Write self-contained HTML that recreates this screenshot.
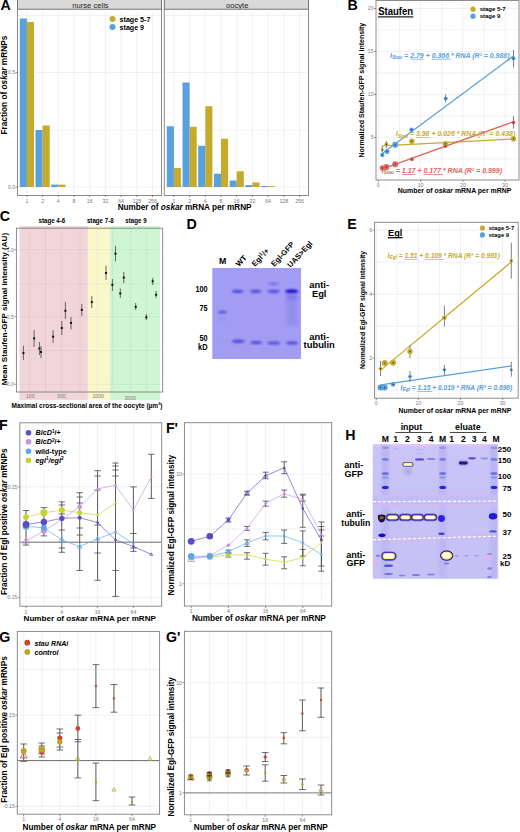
<!DOCTYPE html>
<html><head><meta charset="utf-8"><style>
html,body{margin:0;padding:0;background:#fff;}
svg{display:block;font-family:"Liberation Sans", sans-serif;}
</style></head><body>
<svg width="520" height="832" viewBox="0 0 520 832">
<rect x="0" y="0" width="520" height="832" fill="#fff"/>
<text x="0.60" y="9.90" font-size="14.2" font-weight="bold" font-style="normal" text-anchor="start" fill="#000">A</text>
<rect x="17.50" y="-0.50" width="144.00" height="9.80" fill="#D9D9D9" stroke="#666" stroke-width="0.9"/>
<text x="90.50" y="8.00" font-size="7.6" font-weight="normal" font-style="normal" text-anchor="middle" fill="#222">nurse cells</text>
<rect x="17.50" y="9.30" width="144.00" height="186.20" fill="#fff" stroke="none" stroke-width="1"/>
<line x1="26.90" y1="11.00" x2="26.90" y2="194.50" stroke="#EBEBEB" stroke-width="0.7"/>
<line x1="42.60" y1="11.00" x2="42.60" y2="194.50" stroke="#EBEBEB" stroke-width="0.7"/>
<line x1="58.30" y1="11.00" x2="58.30" y2="194.50" stroke="#EBEBEB" stroke-width="0.7"/>
<line x1="74.00" y1="11.00" x2="74.00" y2="194.50" stroke="#EBEBEB" stroke-width="0.7"/>
<line x1="89.70" y1="11.00" x2="89.70" y2="194.50" stroke="#EBEBEB" stroke-width="0.7"/>
<line x1="105.40" y1="11.00" x2="105.40" y2="194.50" stroke="#EBEBEB" stroke-width="0.7"/>
<line x1="121.10" y1="11.00" x2="121.10" y2="194.50" stroke="#EBEBEB" stroke-width="0.7"/>
<line x1="136.80" y1="11.00" x2="136.80" y2="194.50" stroke="#EBEBEB" stroke-width="0.7"/>
<line x1="152.50" y1="11.00" x2="152.50" y2="194.50" stroke="#EBEBEB" stroke-width="0.7"/>
<line x1="18.00" y1="15.25" x2="161.00" y2="15.25" stroke="#EBEBEB" stroke-width="0.7"/>
<line x1="18.00" y1="72.50" x2="161.00" y2="72.50" stroke="#EBEBEB" stroke-width="0.7"/>
<line x1="18.00" y1="130.00" x2="161.00" y2="130.00" stroke="#EBEBEB" stroke-width="0.7"/>
<line x1="18.00" y1="187.00" x2="161.00" y2="187.00" stroke="#EBEBEB" stroke-width="0.7"/>
<rect x="17.50" y="9.30" width="144.00" height="186.20" fill="none" stroke="#808080" stroke-width="0.9"/>
<line x1="26.90" y1="195.00" x2="26.90" y2="197.00" stroke="#555" stroke-width="0.6"/>
<text x="26.90" y="202.80" font-size="5.2" font-weight="normal" font-style="normal" text-anchor="middle" fill="#7a7a7a">1</text>
<line x1="42.60" y1="195.00" x2="42.60" y2="197.00" stroke="#555" stroke-width="0.6"/>
<text x="42.60" y="202.80" font-size="5.2" font-weight="normal" font-style="normal" text-anchor="middle" fill="#7a7a7a">2</text>
<line x1="58.30" y1="195.00" x2="58.30" y2="197.00" stroke="#555" stroke-width="0.6"/>
<text x="58.30" y="202.80" font-size="5.2" font-weight="normal" font-style="normal" text-anchor="middle" fill="#7a7a7a">4</text>
<line x1="74.00" y1="195.00" x2="74.00" y2="197.00" stroke="#555" stroke-width="0.6"/>
<text x="74.00" y="202.80" font-size="5.2" font-weight="normal" font-style="normal" text-anchor="middle" fill="#7a7a7a">8</text>
<line x1="89.70" y1="195.00" x2="89.70" y2="197.00" stroke="#555" stroke-width="0.6"/>
<text x="89.70" y="202.80" font-size="5.2" font-weight="normal" font-style="normal" text-anchor="middle" fill="#7a7a7a">16</text>
<line x1="105.40" y1="195.00" x2="105.40" y2="197.00" stroke="#555" stroke-width="0.6"/>
<text x="105.40" y="202.80" font-size="5.2" font-weight="normal" font-style="normal" text-anchor="middle" fill="#7a7a7a">32</text>
<line x1="121.10" y1="195.00" x2="121.10" y2="197.00" stroke="#555" stroke-width="0.6"/>
<text x="121.10" y="202.80" font-size="5.2" font-weight="normal" font-style="normal" text-anchor="middle" fill="#7a7a7a">64</text>
<line x1="136.80" y1="195.00" x2="136.80" y2="197.00" stroke="#555" stroke-width="0.6"/>
<text x="136.80" y="202.80" font-size="5.2" font-weight="normal" font-style="normal" text-anchor="middle" fill="#7a7a7a">128</text>
<line x1="152.50" y1="195.00" x2="152.50" y2="197.00" stroke="#555" stroke-width="0.6"/>
<text x="152.50" y="202.80" font-size="5.2" font-weight="normal" font-style="normal" text-anchor="middle" fill="#7a7a7a">256</text>
<rect x="164.30" y="-0.50" width="144.20" height="9.80" fill="#D9D9D9" stroke="#666" stroke-width="0.9"/>
<text x="237.20" y="8.00" font-size="7.6" font-weight="normal" font-style="normal" text-anchor="middle" fill="#222">oocyte</text>
<rect x="164.30" y="9.30" width="144.20" height="186.20" fill="#fff" stroke="none" stroke-width="1"/>
<line x1="173.90" y1="11.00" x2="173.90" y2="194.50" stroke="#EBEBEB" stroke-width="0.7"/>
<line x1="189.60" y1="11.00" x2="189.60" y2="194.50" stroke="#EBEBEB" stroke-width="0.7"/>
<line x1="205.30" y1="11.00" x2="205.30" y2="194.50" stroke="#EBEBEB" stroke-width="0.7"/>
<line x1="221.00" y1="11.00" x2="221.00" y2="194.50" stroke="#EBEBEB" stroke-width="0.7"/>
<line x1="236.70" y1="11.00" x2="236.70" y2="194.50" stroke="#EBEBEB" stroke-width="0.7"/>
<line x1="252.40" y1="11.00" x2="252.40" y2="194.50" stroke="#EBEBEB" stroke-width="0.7"/>
<line x1="268.10" y1="11.00" x2="268.10" y2="194.50" stroke="#EBEBEB" stroke-width="0.7"/>
<line x1="283.80" y1="11.00" x2="283.80" y2="194.50" stroke="#EBEBEB" stroke-width="0.7"/>
<line x1="299.50" y1="11.00" x2="299.50" y2="194.50" stroke="#EBEBEB" stroke-width="0.7"/>
<line x1="164.80" y1="15.25" x2="308.00" y2="15.25" stroke="#EBEBEB" stroke-width="0.7"/>
<line x1="164.80" y1="72.50" x2="308.00" y2="72.50" stroke="#EBEBEB" stroke-width="0.7"/>
<line x1="164.80" y1="130.00" x2="308.00" y2="130.00" stroke="#EBEBEB" stroke-width="0.7"/>
<line x1="164.80" y1="187.00" x2="308.00" y2="187.00" stroke="#EBEBEB" stroke-width="0.7"/>
<rect x="164.30" y="9.30" width="144.20" height="186.20" fill="none" stroke="#808080" stroke-width="0.9"/>
<line x1="173.90" y1="195.00" x2="173.90" y2="197.00" stroke="#555" stroke-width="0.6"/>
<text x="173.90" y="202.80" font-size="5.2" font-weight="normal" font-style="normal" text-anchor="middle" fill="#7a7a7a">1</text>
<line x1="189.60" y1="195.00" x2="189.60" y2="197.00" stroke="#555" stroke-width="0.6"/>
<text x="189.60" y="202.80" font-size="5.2" font-weight="normal" font-style="normal" text-anchor="middle" fill="#7a7a7a">2</text>
<line x1="205.30" y1="195.00" x2="205.30" y2="197.00" stroke="#555" stroke-width="0.6"/>
<text x="205.30" y="202.80" font-size="5.2" font-weight="normal" font-style="normal" text-anchor="middle" fill="#7a7a7a">4</text>
<line x1="221.00" y1="195.00" x2="221.00" y2="197.00" stroke="#555" stroke-width="0.6"/>
<text x="221.00" y="202.80" font-size="5.2" font-weight="normal" font-style="normal" text-anchor="middle" fill="#7a7a7a">8</text>
<line x1="236.70" y1="195.00" x2="236.70" y2="197.00" stroke="#555" stroke-width="0.6"/>
<text x="236.70" y="202.80" font-size="5.2" font-weight="normal" font-style="normal" text-anchor="middle" fill="#7a7a7a">16</text>
<line x1="252.40" y1="195.00" x2="252.40" y2="197.00" stroke="#555" stroke-width="0.6"/>
<text x="252.40" y="202.80" font-size="5.2" font-weight="normal" font-style="normal" text-anchor="middle" fill="#7a7a7a">32</text>
<line x1="268.10" y1="195.00" x2="268.10" y2="197.00" stroke="#555" stroke-width="0.6"/>
<text x="268.10" y="202.80" font-size="5.2" font-weight="normal" font-style="normal" text-anchor="middle" fill="#7a7a7a">64</text>
<line x1="283.80" y1="195.00" x2="283.80" y2="197.00" stroke="#555" stroke-width="0.6"/>
<text x="283.80" y="202.80" font-size="5.2" font-weight="normal" font-style="normal" text-anchor="middle" fill="#7a7a7a">128</text>
<line x1="299.50" y1="195.00" x2="299.50" y2="197.00" stroke="#555" stroke-width="0.6"/>
<text x="299.50" y="202.80" font-size="5.2" font-weight="normal" font-style="normal" text-anchor="middle" fill="#7a7a7a">256</text>
<line x1="15.50" y1="72.50" x2="17.50" y2="72.50" stroke="#555" stroke-width="0.6"/>
<text x="15.20" y="74.30" font-size="5.2" font-weight="normal" font-style="normal" text-anchor="end" fill="#7a7a7a">0.5</text>
<line x1="15.50" y1="187.00" x2="17.50" y2="187.00" stroke="#555" stroke-width="0.6"/>
<text x="15.20" y="188.80" font-size="5.2" font-weight="normal" font-style="normal" text-anchor="end" fill="#7a7a7a">0.0</text>
<rect x="19.80" y="18.50" width="7.10" height="168.50" fill="#58A0DE" stroke="none" stroke-width="1"/>
<rect x="26.90" y="22.00" width="7.10" height="165.00" fill="#C6AA2C" stroke="none" stroke-width="1"/>
<rect x="35.50" y="130.00" width="7.10" height="57.00" fill="#58A0DE" stroke="none" stroke-width="1"/>
<rect x="42.60" y="125.50" width="7.10" height="61.50" fill="#C6AA2C" stroke="none" stroke-width="1"/>
<rect x="51.20" y="184.60" width="7.10" height="2.40" fill="#58A0DE" stroke="none" stroke-width="1"/>
<rect x="58.30" y="184.60" width="7.10" height="2.40" fill="#C6AA2C" stroke="none" stroke-width="1"/>
<rect x="166.80" y="126.25" width="7.10" height="60.75" fill="#58A0DE" stroke="none" stroke-width="1"/>
<rect x="173.90" y="168.00" width="7.10" height="19.00" fill="#C6AA2C" stroke="none" stroke-width="1"/>
<rect x="182.50" y="82.50" width="7.10" height="104.50" fill="#58A0DE" stroke="none" stroke-width="1"/>
<rect x="189.60" y="126.75" width="7.10" height="60.25" fill="#C6AA2C" stroke="none" stroke-width="1"/>
<rect x="198.20" y="145.75" width="7.10" height="41.25" fill="#58A0DE" stroke="none" stroke-width="1"/>
<rect x="205.30" y="106.25" width="7.10" height="80.75" fill="#C6AA2C" stroke="none" stroke-width="1"/>
<rect x="213.90" y="173.75" width="7.10" height="13.25" fill="#58A0DE" stroke="none" stroke-width="1"/>
<rect x="221.00" y="138.75" width="7.10" height="48.25" fill="#C6AA2C" stroke="none" stroke-width="1"/>
<rect x="229.60" y="180.50" width="7.10" height="6.50" fill="#58A0DE" stroke="none" stroke-width="1"/>
<rect x="236.70" y="171.25" width="7.10" height="15.75" fill="#C6AA2C" stroke="none" stroke-width="1"/>
<rect x="245.30" y="185.00" width="7.10" height="2.00" fill="#58A0DE" stroke="none" stroke-width="1"/>
<rect x="252.40" y="182.50" width="7.10" height="4.50" fill="#C6AA2C" stroke="none" stroke-width="1"/>
<rect x="261.00" y="186.00" width="7.10" height="1.00" fill="#58A0DE" stroke="none" stroke-width="1"/>
<rect x="268.10" y="186.20" width="7.10" height="0.80" fill="#C6AA2C" stroke="none" stroke-width="1"/>
<circle cx="112.50" cy="19.00" r="3.00" fill="#C6AA2C"/>
<circle cx="112.50" cy="27.00" r="3.00" fill="#58A0DE"/>
<text x="119.60" y="21.60" font-size="7.1" font-weight="bold" font-style="normal" text-anchor="start" fill="#000">stage 5-7</text>
<text x="119.60" y="29.60" font-size="7.1" font-weight="bold" font-style="normal" text-anchor="start" fill="#000">stage 9</text>
<text x="7.40" y="85.10" font-size="8.28" font-weight="bold" font-style="normal" text-anchor="middle" fill="#000" transform="rotate(-90 7.4 85.1)">Fraction of <tspan font-style="italic">oskar</tspan> mRNPs</text>
<text x="184.60" y="210.40" font-size="8.2" font-weight="bold" font-style="normal" text-anchor="middle" fill="#000">Number of <tspan font-style="italic">oskar</tspan> mRNA per mRNP</text>
<text x="347.40" y="10.20" font-size="14.2" font-weight="bold" font-style="normal" text-anchor="start" fill="#000">B</text>
<rect x="376.00" y="0.50" width="143.00" height="179.50" fill="#fff" stroke="none" stroke-width="1"/>
<line x1="378.30" y1="1.00" x2="378.30" y2="179.50" stroke="#EBEBEB" stroke-width="0.7"/>
<line x1="399.45" y1="1.00" x2="399.45" y2="179.50" stroke="#EBEBEB" stroke-width="0.7"/>
<line x1="420.60" y1="1.00" x2="420.60" y2="179.50" stroke="#EBEBEB" stroke-width="0.7"/>
<line x1="441.75" y1="1.00" x2="441.75" y2="179.50" stroke="#EBEBEB" stroke-width="0.7"/>
<line x1="462.90" y1="1.00" x2="462.90" y2="179.50" stroke="#EBEBEB" stroke-width="0.7"/>
<line x1="484.05" y1="1.00" x2="484.05" y2="179.50" stroke="#EBEBEB" stroke-width="0.7"/>
<line x1="505.20" y1="1.00" x2="505.20" y2="179.50" stroke="#EBEBEB" stroke-width="0.7"/>
<line x1="376.50" y1="158.91" x2="518.50" y2="158.91" stroke="#EBEBEB" stroke-width="0.7"/>
<line x1="376.50" y1="137.43" x2="518.50" y2="137.43" stroke="#EBEBEB" stroke-width="0.7"/>
<line x1="376.50" y1="115.94" x2="518.50" y2="115.94" stroke="#EBEBEB" stroke-width="0.7"/>
<line x1="376.50" y1="94.45" x2="518.50" y2="94.45" stroke="#EBEBEB" stroke-width="0.7"/>
<line x1="376.50" y1="72.96" x2="518.50" y2="72.96" stroke="#EBEBEB" stroke-width="0.7"/>
<line x1="376.50" y1="51.47" x2="518.50" y2="51.47" stroke="#EBEBEB" stroke-width="0.7"/>
<line x1="376.50" y1="29.99" x2="518.50" y2="29.99" stroke="#EBEBEB" stroke-width="0.7"/>
<line x1="376.50" y1="8.50" x2="518.50" y2="8.50" stroke="#EBEBEB" stroke-width="0.7"/>
<rect x="376.00" y="0.50" width="143.00" height="179.50" fill="none" stroke="#808080" stroke-width="0.9"/>
<line x1="374.00" y1="137.43" x2="376.00" y2="137.43" stroke="#555" stroke-width="0.6"/>
<text x="373.60" y="139.23" font-size="5.2" font-weight="normal" font-style="normal" text-anchor="end" fill="#7a7a7a">5</text>
<line x1="374.00" y1="94.45" x2="376.00" y2="94.45" stroke="#555" stroke-width="0.6"/>
<text x="373.60" y="96.25" font-size="5.2" font-weight="normal" font-style="normal" text-anchor="end" fill="#7a7a7a">10</text>
<line x1="374.00" y1="51.47" x2="376.00" y2="51.47" stroke="#555" stroke-width="0.6"/>
<text x="373.60" y="53.27" font-size="5.2" font-weight="normal" font-style="normal" text-anchor="end" fill="#7a7a7a">15</text>
<line x1="374.00" y1="8.50" x2="376.00" y2="8.50" stroke="#555" stroke-width="0.6"/>
<text x="373.60" y="10.30" font-size="5.2" font-weight="normal" font-style="normal" text-anchor="end" fill="#7a7a7a">20</text>
<line x1="378.30" y1="180.00" x2="378.30" y2="182.00" stroke="#555" stroke-width="0.6"/>
<text x="378.30" y="186.80" font-size="5.2" font-weight="normal" font-style="normal" text-anchor="middle" fill="#7a7a7a">0</text>
<line x1="420.60" y1="180.00" x2="420.60" y2="182.00" stroke="#555" stroke-width="0.6"/>
<text x="420.60" y="186.80" font-size="5.2" font-weight="normal" font-style="normal" text-anchor="middle" fill="#7a7a7a">10</text>
<line x1="462.90" y1="180.00" x2="462.90" y2="182.00" stroke="#555" stroke-width="0.6"/>
<text x="462.90" y="186.80" font-size="5.2" font-weight="normal" font-style="normal" text-anchor="middle" fill="#7a7a7a">20</text>
<line x1="505.20" y1="180.00" x2="505.20" y2="182.00" stroke="#555" stroke-width="0.6"/>
<text x="505.20" y="186.80" font-size="5.2" font-weight="normal" font-style="normal" text-anchor="middle" fill="#7a7a7a">30</text>
<text x="364.50" y="90.20" font-size="7.0" font-weight="bold" font-style="normal" text-anchor="middle" fill="#000" transform="rotate(-90 364.5 90.2)">Normalized Staufen-GFP signal intensity</text>
<text x="454.60" y="193.20" font-size="6.96" font-weight="bold" font-style="normal" text-anchor="middle" fill="#000">Number of <tspan font-style="italic">oskar</tspan> mRNA per mRNP</text>
<text x="378.20" y="15.00" font-size="10.0" font-weight="bold" font-style="normal" text-anchor="start" fill="#000" textLength="35.0" lengthAdjust="spacingAndGlyphs">Staufen</text>
<line x1="378.00" y1="16.90" x2="413.40" y2="16.90" stroke="#222" stroke-width="1.3"/>
<circle cx="473.00" cy="9.20" r="2.60" fill="#C6AA2C"/>
<circle cx="473.00" cy="16.20" r="2.60" fill="#58A0DE"/>
<text x="479.70" y="11.40" font-size="6.0" font-weight="bold" font-style="normal" text-anchor="start" fill="#000">stage 5-7</text>
<text x="479.70" y="18.40" font-size="6.0" font-weight="bold" font-style="normal" text-anchor="start" fill="#000">stage 9</text>
<line x1="382.53" y1="153.27" x2="513.66" y2="55.76" stroke="#58A0DE" stroke-width="1.25"/>
<line x1="382.53" y1="145.97" x2="513.66" y2="139.04" stroke="#C6AA2C" stroke-width="1.25"/>
<line x1="382.53" y1="168.82" x2="513.66" y2="121.66" stroke="#DE6460" stroke-width="1.25"/>
<text x="390.00" y="57.80" font-size="6.95" font-weight="bold" font-style="italic" text-anchor="start" fill="#58A0DE"><tspan font-size="6.76">I</tspan><tspan font-size="4.8" dy="1.2">Stau</tspan><tspan dy="-1.2"> = </tspan><tspan text-decoration="underline">2.79</tspan> + <tspan text-decoration="underline">0.366 </tspan>* RNA (R² = 0.988)</text>
<text x="395.70" y="136.40" font-size="6.95" font-weight="bold" font-style="italic" text-anchor="start" fill="#C6AA2C"><tspan>I</tspan><tspan font-size="4.8" dy="1.2">Stau</tspan><tspan dy="-1.2"> = </tspan><tspan text-decoration="underline">3.98</tspan> + 0.026 * RNA (R² = 0.438)</text>
<text x="381.50" y="173.00" font-size="7.0" font-weight="bold" font-style="italic" text-anchor="start" fill="#DE6460"><tspan>I</tspan><tspan font-size="4.8" dy="1.2">Stau</tspan><tspan dy="-1.2"> = </tspan><tspan text-decoration="underline">1.17</tspan> + <tspan text-decoration="underline">0.177 </tspan>* RNA (R² = 0.999)</text>
<line x1="382.30" y1="145.80" x2="382.30" y2="152.30" stroke="#555" stroke-width="0.75"/>
<circle cx="382.30" cy="149.80" r="1.50" fill="#C6AA2C"/>
<circle cx="382.30" cy="149.80" r="0.70" fill="#333"/>
<line x1="386.40" y1="140.80" x2="386.40" y2="148.00" stroke="#555" stroke-width="0.75"/>
<circle cx="386.40" cy="144.20" r="2.00" fill="#C6AA2C"/>
<circle cx="386.40" cy="144.20" r="0.70" fill="#333"/>
<circle cx="395.20" cy="144.60" r="2.20" fill="#C6AA2C"/>
<circle cx="395.20" cy="144.60" r="0.70" fill="#333"/>
<circle cx="411.80" cy="141.20" r="2.70" fill="#C6AA2C"/>
<circle cx="411.80" cy="141.20" r="0.70" fill="#333"/>
<circle cx="445.40" cy="143.80" r="2.80" fill="#C6AA2C"/>
<circle cx="445.40" cy="143.80" r="0.70" fill="#333"/>
<circle cx="513.50" cy="138.80" r="2.80" fill="#C6AA2C"/>
<circle cx="513.50" cy="138.80" r="0.70" fill="#333"/>
<circle cx="382.50" cy="168.00" r="2.80" fill="#DE6460"/>
<circle cx="382.50" cy="168.00" r="0.70" fill="#333"/>
<circle cx="386.40" cy="166.90" r="3.00" fill="#DE6460"/>
<circle cx="386.40" cy="166.90" r="0.70" fill="#333"/>
<circle cx="395.20" cy="164.20" r="3.00" fill="#DE6460"/>
<circle cx="395.20" cy="164.20" r="0.70" fill="#333"/>
<circle cx="411.80" cy="159.20" r="2.00" fill="#DE6460"/>
<circle cx="411.80" cy="159.20" r="0.70" fill="#333"/>
<circle cx="445.40" cy="146.20" r="1.80" fill="#DE6460"/>
<circle cx="445.40" cy="146.20" r="0.70" fill="#333"/>
<line x1="513.50" y1="116.00" x2="513.50" y2="128.50" stroke="#555" stroke-width="0.75"/>
<circle cx="513.50" cy="122.50" r="1.90" fill="#DE6460"/>
<circle cx="513.50" cy="122.50" r="0.70" fill="#333"/>
<circle cx="382.30" cy="155.00" r="2.20" fill="#58A0DE"/>
<circle cx="382.30" cy="155.00" r="0.70" fill="#333"/>
<circle cx="387.00" cy="151.50" r="2.50" fill="#58A0DE"/>
<circle cx="387.00" cy="151.50" r="0.70" fill="#333"/>
<circle cx="395.20" cy="144.80" r="3.00" fill="#58A0DE"/>
<circle cx="395.20" cy="144.80" r="0.70" fill="#333"/>
<circle cx="411.50" cy="129.80" r="2.30" fill="#58A0DE"/>
<circle cx="411.50" cy="129.80" r="0.70" fill="#333"/>
<line x1="445.70" y1="94.50" x2="445.70" y2="102.50" stroke="#555" stroke-width="0.75"/>
<circle cx="445.70" cy="98.50" r="2.00" fill="#58A0DE"/>
<circle cx="445.70" cy="98.50" r="0.70" fill="#333"/>
<line x1="513.50" y1="50.00" x2="513.50" y2="67.70" stroke="#555" stroke-width="0.75"/>
<circle cx="513.50" cy="58.50" r="2.00" fill="#58A0DE"/>
<circle cx="513.50" cy="58.50" r="0.70" fill="#333"/>
<text x="-0.30" y="221.40" font-size="14.2" font-weight="bold" font-style="normal" text-anchor="start" fill="#000">C</text>
<rect x="19.50" y="226.00" width="68.40" height="174.00" fill="#F2D5D9" stroke="none" stroke-width="1"/>
<rect x="87.90" y="226.00" width="22.00" height="174.00" fill="#FAF7CB" stroke="none" stroke-width="1"/>
<rect x="109.90" y="226.00" width="50.10" height="174.00" fill="#CFF5D3" stroke="none" stroke-width="1"/>
<line x1="29.40" y1="228.50" x2="29.40" y2="391.50" stroke="rgba(0,0,0,0.07)" stroke-width="0.7"/>
<line x1="45.50" y1="228.50" x2="45.50" y2="391.50" stroke="rgba(0,0,0,0.07)" stroke-width="0.7"/>
<line x1="61.40" y1="228.50" x2="61.40" y2="391.50" stroke="rgba(0,0,0,0.07)" stroke-width="0.7"/>
<line x1="80.00" y1="228.50" x2="80.00" y2="391.50" stroke="rgba(0,0,0,0.07)" stroke-width="0.7"/>
<line x1="97.30" y1="228.50" x2="97.30" y2="391.50" stroke="rgba(0,0,0,0.07)" stroke-width="0.7"/>
<line x1="112.90" y1="228.50" x2="112.90" y2="391.50" stroke="rgba(0,0,0,0.07)" stroke-width="0.7"/>
<line x1="130.70" y1="228.50" x2="130.70" y2="391.50" stroke="rgba(0,0,0,0.07)" stroke-width="0.7"/>
<line x1="146.60" y1="228.50" x2="146.60" y2="391.50" stroke="rgba(0,0,0,0.07)" stroke-width="0.7"/>
<line x1="16.50" y1="249.70" x2="162.50" y2="249.70" stroke="rgba(0,0,0,0.07)" stroke-width="0.7"/>
<line x1="16.50" y1="283.90" x2="162.50" y2="283.90" stroke="rgba(0,0,0,0.07)" stroke-width="0.7"/>
<line x1="16.50" y1="316.80" x2="162.50" y2="316.80" stroke="rgba(0,0,0,0.07)" stroke-width="0.7"/>
<line x1="16.50" y1="350.60" x2="162.50" y2="350.60" stroke="rgba(0,0,0,0.07)" stroke-width="0.7"/>
<line x1="16.50" y1="384.30" x2="162.50" y2="384.30" stroke="rgba(0,0,0,0.07)" stroke-width="0.7"/>
<rect x="16.40" y="228.20" width="146.30" height="163.80" fill="none" stroke="#808080" stroke-width="0.9"/>
<text x="51.90" y="223.20" font-size="6.9" font-weight="bold" font-style="normal" text-anchor="middle" fill="#000" textLength="26.8" lengthAdjust="spacingAndGlyphs">stage 4-6</text>
<text x="100.30" y="223.20" font-size="6.9" font-weight="bold" font-style="normal" text-anchor="middle" fill="#000" textLength="26.8" lengthAdjust="spacingAndGlyphs">stage 7-8</text>
<text x="136.00" y="223.20" font-size="6.9" font-weight="bold" font-style="normal" text-anchor="middle" fill="#000" textLength="21.3" lengthAdjust="spacingAndGlyphs">stage 9</text>
<line x1="14.40" y1="249.70" x2="16.40" y2="249.70" stroke="#555" stroke-width="0.6"/>
<text x="14.00" y="251.50" font-size="5.2" font-weight="normal" font-style="normal" text-anchor="end" fill="#7a7a7a">1.0</text>
<line x1="14.40" y1="316.80" x2="16.40" y2="316.80" stroke="#555" stroke-width="0.6"/>
<text x="14.00" y="318.60" font-size="5.2" font-weight="normal" font-style="normal" text-anchor="end" fill="#7a7a7a">0.5</text>
<line x1="14.40" y1="384.30" x2="16.40" y2="384.30" stroke="#555" stroke-width="0.6"/>
<text x="14.00" y="386.10" font-size="5.2" font-weight="normal" font-style="normal" text-anchor="end" fill="#7a7a7a">0.0</text>
<text x="30.30" y="397.80" font-size="5.2" font-weight="normal" font-style="normal" text-anchor="middle" fill="#7a7a7a">100</text>
<text x="61.40" y="397.80" font-size="5.2" font-weight="normal" font-style="normal" text-anchor="middle" fill="#7a7a7a">300</text>
<text x="98.20" y="398.20" font-size="5.2" font-weight="normal" font-style="normal" text-anchor="middle" fill="#7a7a7a">1000</text>
<text x="130.20" y="399.80" font-size="5.2" font-weight="normal" font-style="normal" text-anchor="middle" fill="#7a7a7a">3000</text>
<text x="87.00" y="407.60" font-size="7.3" font-weight="bold" font-style="normal" text-anchor="middle" fill="#000" textLength="151.0" lengthAdjust="spacingAndGlyphs">Maximal cross-sectional area of the oocyte (µm²)</text>
<text x="7.00" y="309.00" font-size="8.1" font-weight="bold" font-style="normal" text-anchor="middle" fill="#000" transform="rotate(-90 7.0 309.0)">Mean Staufen-GFP signal intensity (AU)</text>
<line x1="23.40" y1="345.70" x2="23.40" y2="360.00" stroke="#444" stroke-width="0.8"/>
<rect x="22.40" y="352.10" width="2.00" height="2.00" fill="#111" stroke="none" stroke-width="1"/>
<line x1="34.10" y1="330.00" x2="34.10" y2="347.00" stroke="#444" stroke-width="0.8"/>
<rect x="33.10" y="337.40" width="2.00" height="2.00" fill="#111" stroke="none" stroke-width="1"/>
<line x1="39.40" y1="342.00" x2="39.40" y2="355.00" stroke="#444" stroke-width="0.8"/>
<rect x="38.40" y="347.50" width="2.00" height="2.00" fill="#111" stroke="none" stroke-width="1"/>
<line x1="41.00" y1="346.00" x2="41.00" y2="358.00" stroke="#444" stroke-width="0.8"/>
<rect x="40.00" y="351.00" width="2.00" height="2.00" fill="#111" stroke="none" stroke-width="1"/>
<line x1="53.10" y1="330.00" x2="53.10" y2="343.00" stroke="#444" stroke-width="0.8"/>
<rect x="52.10" y="335.70" width="2.00" height="2.00" fill="#111" stroke="none" stroke-width="1"/>
<line x1="61.80" y1="321.00" x2="61.80" y2="335.00" stroke="#444" stroke-width="0.8"/>
<rect x="60.80" y="327.00" width="2.00" height="2.00" fill="#111" stroke="none" stroke-width="1"/>
<line x1="65.40" y1="302.00" x2="65.40" y2="319.00" stroke="#444" stroke-width="0.8"/>
<rect x="64.40" y="309.80" width="2.00" height="2.00" fill="#111" stroke="none" stroke-width="1"/>
<line x1="71.00" y1="317.00" x2="71.00" y2="329.50" stroke="#444" stroke-width="0.8"/>
<rect x="70.00" y="321.90" width="2.00" height="2.00" fill="#111" stroke="none" stroke-width="1"/>
<line x1="81.80" y1="304.00" x2="81.80" y2="316.00" stroke="#444" stroke-width="0.8"/>
<rect x="80.80" y="308.90" width="2.00" height="2.00" fill="#111" stroke="none" stroke-width="1"/>
<line x1="91.80" y1="296.00" x2="91.80" y2="308.00" stroke="#444" stroke-width="0.8"/>
<rect x="90.80" y="301.10" width="2.00" height="2.00" fill="#111" stroke="none" stroke-width="1"/>
<line x1="106.00" y1="265.70" x2="106.00" y2="280.00" stroke="#444" stroke-width="0.8"/>
<rect x="105.00" y="272.00" width="2.00" height="2.00" fill="#111" stroke="none" stroke-width="1"/>
<line x1="115.50" y1="245.80" x2="115.50" y2="261.40" stroke="#444" stroke-width="0.8"/>
<rect x="114.50" y="252.60" width="2.00" height="2.00" fill="#111" stroke="none" stroke-width="1"/>
<line x1="123.80" y1="272.00" x2="123.80" y2="283.00" stroke="#444" stroke-width="0.8"/>
<rect x="122.80" y="276.50" width="2.00" height="2.00" fill="#111" stroke="none" stroke-width="1"/>
<line x1="112.40" y1="279.00" x2="112.40" y2="291.00" stroke="#444" stroke-width="0.8"/>
<rect x="111.40" y="283.80" width="2.00" height="2.00" fill="#111" stroke="none" stroke-width="1"/>
<line x1="120.30" y1="288.50" x2="120.30" y2="298.00" stroke="#444" stroke-width="0.8"/>
<rect x="119.30" y="292.40" width="2.00" height="2.00" fill="#111" stroke="none" stroke-width="1"/>
<line x1="135.70" y1="303.00" x2="135.70" y2="310.00" stroke="#444" stroke-width="0.8"/>
<rect x="134.70" y="305.80" width="2.00" height="2.00" fill="#111" stroke="none" stroke-width="1"/>
<line x1="146.30" y1="314.00" x2="146.30" y2="320.00" stroke="#444" stroke-width="0.8"/>
<rect x="145.30" y="316.30" width="2.00" height="2.00" fill="#111" stroke="none" stroke-width="1"/>
<line x1="152.70" y1="278.00" x2="152.70" y2="285.00" stroke="#444" stroke-width="0.8"/>
<rect x="151.70" y="280.30" width="2.00" height="2.00" fill="#111" stroke="none" stroke-width="1"/>
<line x1="156.10" y1="291.00" x2="156.10" y2="298.00" stroke="#444" stroke-width="0.8"/>
<rect x="155.10" y="293.80" width="2.00" height="2.00" fill="#111" stroke="none" stroke-width="1"/>
<text x="186.60" y="229.40" font-size="14.2" font-weight="bold" font-style="normal" text-anchor="start" fill="#000">D</text>
<defs><filter id="blur1" x="-50%" y="-50%" width="200%" height="200%"><feGaussianBlur stdDeviation="0.8"/></filter><filter id="blur2" x="-50%" y="-50%" width="200%" height="200%"><feGaussianBlur stdDeviation="1.5"/></filter><filter id="blur05" x="-50%" y="-50%" width="200%" height="200%"><feGaussianBlur stdDeviation="0.5"/></filter></defs>
<rect x="212.30" y="268.00" width="88.70" height="91.00" fill="#A29DF3" stroke="none" stroke-width="1"/>
<ellipse cx="237.60" cy="291.30" rx="5.80" ry="1.60" fill="#3A34D8" opacity="0.85" filter="url(#blur1)"/>
<ellipse cx="255.70" cy="291.30" rx="5.80" ry="1.60" fill="#3A34D8" opacity="0.85" filter="url(#blur1)"/>
<ellipse cx="273.70" cy="291.30" rx="6.20" ry="1.60" fill="#3A34D8" opacity="0.8" filter="url(#blur1)"/>
<ellipse cx="273.70" cy="283.60" rx="5.80" ry="1.30" fill="#5650DA" opacity="0.6" filter="url(#blur1)"/>
<ellipse cx="291.70" cy="291.30" rx="6.80" ry="2.00" fill="#1810D0" opacity="1.0" filter="url(#blur1)"/>
<ellipse cx="291.50" cy="297.00" rx="5.50" ry="3.50" fill="#6A66DC" opacity="0.5" filter="url(#blur2)"/>
<rect x="286" y="294" width="12" height="32" fill="#7C78E4" opacity="0.35" filter="url(#blur2)"/>
<ellipse cx="222.40" cy="312.00" rx="4.40" ry="1.50" fill="#4A44D8" opacity="0.8" filter="url(#blur1)"/>
<ellipse cx="222.40" cy="319.50" rx="3.50" ry="1.20" fill="#8A88E0" opacity="0.4" filter="url(#blur1)"/>
<ellipse cx="238.20" cy="341.20" rx="6.50" ry="1.70" fill="#3A34D8" opacity="0.8" filter="url(#blur1)"/>
<ellipse cx="256.20" cy="342.60" rx="6.00" ry="1.70" fill="#3A34D8" opacity="0.8" filter="url(#blur1)"/>
<ellipse cx="273.70" cy="343.00" rx="6.50" ry="1.60" fill="#3A34D8" opacity="0.75" filter="url(#blur1)"/>
<ellipse cx="292.00" cy="343.00" rx="6.00" ry="1.60" fill="#3A34D8" opacity="0.8" filter="url(#blur1)"/>
<ellipse cx="222.40" cy="341.00" rx="3.50" ry="1.20" fill="#9A98E6" opacity="0.5" filter="url(#blur1)"/>
<text x="222.70" y="263.80" font-size="8.8" font-weight="bold" font-style="normal" text-anchor="middle" fill="#000">M</text>
<text x="239.00" y="267.00" font-size="7.7" font-weight="bold" font-style="normal" text-anchor="start" fill="#000" transform="rotate(-47 239.0 267.0)">WT</text>
<text x="255.00" y="267.00" font-size="7.7" font-weight="bold" font-style="normal" text-anchor="start" fill="#000" transform="rotate(-47 255.0 267.0)">Egl<tspan font-size="5.2" dy="-2.8">1</tspan><tspan dy="2.8">/+</tspan></text>
<text x="274.20" y="267.00" font-size="7.7" font-weight="bold" font-style="normal" text-anchor="start" fill="#000" transform="rotate(-47 274.2 267.0)">Egl-GFP</text>
<text x="290.60" y="268.00" font-size="7.7" font-weight="bold" font-style="normal" text-anchor="start" fill="#000" transform="rotate(-47 290.6 268.0)">UAS&gt;Egl</text>
<text x="207.60" y="291.80" font-size="8.6" font-weight="bold" font-style="normal" text-anchor="end" fill="#000" textLength="12.2" lengthAdjust="spacingAndGlyphs">100</text>
<text x="207.60" y="310.80" font-size="8.6" font-weight="bold" font-style="normal" text-anchor="end" fill="#000" textLength="8.1" lengthAdjust="spacingAndGlyphs">75</text>
<text x="207.60" y="341.00" font-size="8.6" font-weight="bold" font-style="normal" text-anchor="end" fill="#000" textLength="8.1" lengthAdjust="spacingAndGlyphs">50</text>
<text x="207.60" y="350.00" font-size="8.6" font-weight="bold" font-style="normal" text-anchor="end" fill="#000" textLength="9.5" lengthAdjust="spacingAndGlyphs">kD</text>
<text x="319.20" y="287.90" font-size="9.4" font-weight="bold" font-style="normal" text-anchor="middle" fill="#000">anti-</text>
<text x="319.20" y="297.40" font-size="9.4" font-weight="bold" font-style="normal" text-anchor="middle" fill="#000">Egl</text>
<text x="319.20" y="339.50" font-size="9.4" font-weight="bold" font-style="normal" text-anchor="middle" fill="#000">anti-</text>
<text x="319.20" y="348.00" font-size="9.4" font-weight="bold" font-style="normal" text-anchor="middle" fill="#000">tubulin</text>
<text x="347.30" y="229.20" font-size="14.2" font-weight="bold" font-style="normal" text-anchor="start" fill="#000">E</text>
<rect x="374.60" y="222.30" width="143.60" height="175.90" fill="#fff" stroke="none" stroke-width="1"/>
<line x1="376.30" y1="222.80" x2="376.30" y2="397.80" stroke="#EBEBEB" stroke-width="0.7"/>
<line x1="397.35" y1="222.80" x2="397.35" y2="397.80" stroke="#EBEBEB" stroke-width="0.7"/>
<line x1="418.40" y1="222.80" x2="418.40" y2="397.80" stroke="#EBEBEB" stroke-width="0.7"/>
<line x1="439.45" y1="222.80" x2="439.45" y2="397.80" stroke="#EBEBEB" stroke-width="0.7"/>
<line x1="460.50" y1="222.80" x2="460.50" y2="397.80" stroke="#EBEBEB" stroke-width="0.7"/>
<line x1="481.55" y1="222.80" x2="481.55" y2="397.80" stroke="#EBEBEB" stroke-width="0.7"/>
<line x1="502.60" y1="222.80" x2="502.60" y2="397.80" stroke="#EBEBEB" stroke-width="0.7"/>
<line x1="375.00" y1="390.20" x2="518.00" y2="390.20" stroke="#EBEBEB" stroke-width="0.7"/>
<line x1="375.00" y1="358.20" x2="518.00" y2="358.20" stroke="#EBEBEB" stroke-width="0.7"/>
<line x1="375.00" y1="326.20" x2="518.00" y2="326.20" stroke="#EBEBEB" stroke-width="0.7"/>
<line x1="375.00" y1="294.20" x2="518.00" y2="294.20" stroke="#EBEBEB" stroke-width="0.7"/>
<line x1="375.00" y1="262.20" x2="518.00" y2="262.20" stroke="#EBEBEB" stroke-width="0.7"/>
<line x1="375.00" y1="230.20" x2="518.00" y2="230.20" stroke="#EBEBEB" stroke-width="0.7"/>
<rect x="374.60" y="222.30" width="143.60" height="175.90" fill="none" stroke="#808080" stroke-width="0.9"/>
<line x1="372.60" y1="358.20" x2="374.60" y2="358.20" stroke="#555" stroke-width="0.6"/>
<text x="372.20" y="360.00" font-size="5.2" font-weight="normal" font-style="normal" text-anchor="end" fill="#7a7a7a">2</text>
<line x1="372.60" y1="294.20" x2="374.60" y2="294.20" stroke="#555" stroke-width="0.6"/>
<text x="372.20" y="296.00" font-size="5.2" font-weight="normal" font-style="normal" text-anchor="end" fill="#7a7a7a">4</text>
<line x1="372.60" y1="230.20" x2="374.60" y2="230.20" stroke="#555" stroke-width="0.6"/>
<text x="372.20" y="232.00" font-size="5.2" font-weight="normal" font-style="normal" text-anchor="end" fill="#7a7a7a">6</text>
<line x1="376.30" y1="398.20" x2="376.30" y2="400.20" stroke="#555" stroke-width="0.6"/>
<text x="376.30" y="405.40" font-size="5.2" font-weight="normal" font-style="normal" text-anchor="middle" fill="#7a7a7a">0</text>
<line x1="418.40" y1="398.20" x2="418.40" y2="400.20" stroke="#555" stroke-width="0.6"/>
<text x="418.40" y="405.40" font-size="5.2" font-weight="normal" font-style="normal" text-anchor="middle" fill="#7a7a7a">10</text>
<line x1="460.50" y1="398.20" x2="460.50" y2="400.20" stroke="#555" stroke-width="0.6"/>
<text x="460.50" y="405.40" font-size="5.2" font-weight="normal" font-style="normal" text-anchor="middle" fill="#7a7a7a">20</text>
<line x1="502.60" y1="398.20" x2="502.60" y2="400.20" stroke="#555" stroke-width="0.6"/>
<text x="502.60" y="405.40" font-size="5.2" font-weight="normal" font-style="normal" text-anchor="middle" fill="#7a7a7a">30</text>
<text x="365.20" y="309.90" font-size="6.9" font-weight="bold" font-style="normal" text-anchor="middle" fill="#000" transform="rotate(-90 365.2 309.9)">Normalized Egl-GFP signal intensity</text>
<text x="454.90" y="413.10" font-size="6.9" font-weight="bold" font-style="normal" text-anchor="middle" fill="#000">Number of <tspan font-style="italic">oskar</tspan> mRNA per mRNP</text>
<text x="388.00" y="236.00" font-size="9.2" font-weight="bold" font-style="normal" text-anchor="start" fill="#000">Egl</text>
<line x1="387.80" y1="237.70" x2="402.60" y2="237.70" stroke="#111" stroke-width="1.3"/>
<circle cx="482.40" cy="228.00" r="2.60" fill="#C6AA2C"/>
<circle cx="482.40" cy="234.90" r="2.60" fill="#58A0DE"/>
<text x="488.80" y="230.20" font-size="5.9" font-weight="bold" font-style="normal" text-anchor="start" fill="#000">stage 5-7</text>
<text x="488.80" y="237.10" font-size="5.9" font-weight="bold" font-style="normal" text-anchor="start" fill="#000">stage 9</text>
<line x1="380.51" y1="370.39" x2="511.02" y2="262.26" stroke="#C6AA2C" stroke-width="1.25"/>
<line x1="380.51" y1="384.79" x2="511.02" y2="365.94" stroke="#58A0DE" stroke-width="1.25"/>
<line x1="380.50" y1="361.00" x2="380.50" y2="376.00" stroke="#555" stroke-width="0.75"/>
<circle cx="380.50" cy="368.80" r="1.90" fill="#C6AA2C"/>
<circle cx="380.50" cy="368.80" r="0.70" fill="#333"/>
<circle cx="384.70" cy="363.10" r="3.00" fill="#C6AA2C"/>
<circle cx="384.70" cy="363.10" r="0.70" fill="#333"/>
<circle cx="393.10" cy="362.80" r="3.00" fill="#C6AA2C"/>
<circle cx="393.10" cy="362.80" r="0.70" fill="#333"/>
<line x1="410.00" y1="345.00" x2="410.00" y2="358.00" stroke="#555" stroke-width="0.75"/>
<circle cx="410.00" cy="351.50" r="2.70" fill="#C6AA2C"/>
<circle cx="410.00" cy="351.50" r="0.70" fill="#333"/>
<line x1="444.40" y1="305.50" x2="444.40" y2="326.40" stroke="#555" stroke-width="0.75"/>
<circle cx="444.40" cy="317.80" r="2.30" fill="#C6AA2C"/>
<circle cx="444.40" cy="317.80" r="0.70" fill="#333"/>
<line x1="511.30" y1="242.70" x2="511.30" y2="278.70" stroke="#555" stroke-width="0.75"/>
<circle cx="511.30" cy="260.80" r="1.80" fill="#C6AA2C"/>
<circle cx="511.30" cy="260.80" r="0.70" fill="#333"/>
<circle cx="380.50" cy="387.50" r="3.00" fill="#58A0DE"/>
<circle cx="380.50" cy="387.50" r="0.70" fill="#333"/>
<circle cx="384.70" cy="387.50" r="3.00" fill="#58A0DE"/>
<circle cx="384.70" cy="387.50" r="0.70" fill="#333"/>
<circle cx="393.10" cy="384.40" r="2.30" fill="#58A0DE"/>
<circle cx="393.10" cy="384.40" r="0.70" fill="#333"/>
<line x1="410.00" y1="371.00" x2="410.00" y2="382.00" stroke="#555" stroke-width="0.75"/>
<circle cx="410.00" cy="376.60" r="1.90" fill="#58A0DE"/>
<circle cx="410.00" cy="376.60" r="0.70" fill="#333"/>
<line x1="444.40" y1="365.00" x2="444.40" y2="375.00" stroke="#555" stroke-width="0.75"/>
<circle cx="444.40" cy="369.70" r="1.70" fill="#58A0DE"/>
<circle cx="444.40" cy="369.70" r="0.70" fill="#333"/>
<line x1="511.30" y1="361.90" x2="511.30" y2="376.60" stroke="#555" stroke-width="0.75"/>
<circle cx="511.30" cy="369.70" r="1.50" fill="#58A0DE"/>
<circle cx="511.30" cy="369.70" r="0.70" fill="#333"/>
<text x="387.60" y="258.10" font-size="6.66" font-weight="bold" font-style="italic" text-anchor="start" fill="#C6AA2C">I<tspan font-size="4.8" dy="1.2">Egl</tspan><tspan dy="-1.2"> = </tspan><tspan text-decoration="underline">1.51</tspan> + <tspan text-decoration="underline">0.109 </tspan>* RNA (R² = 0.991)</text>
<text x="400.60" y="390.10" font-size="6.64" font-weight="bold" font-style="italic" text-anchor="start" fill="#58A0DE">I<tspan font-size="4.8" dy="1.2">Egl</tspan><tspan dy="-1.2"> = </tspan><tspan text-decoration="underline">1.15 </tspan>+ 0.019 * RNA (R² = 0.698)</text>
<text x="-1.00" y="429.80" font-size="14.2" font-weight="bold" font-style="normal" text-anchor="start" fill="#000">F</text>
<rect x="19.90" y="422.80" width="141.80" height="183.40" fill="#fff" stroke="none" stroke-width="1"/>
<line x1="26.00" y1="423.30" x2="26.00" y2="605.70" stroke="#EBEBEB" stroke-width="0.7"/>
<line x1="43.90" y1="423.30" x2="43.90" y2="605.70" stroke="#EBEBEB" stroke-width="0.7"/>
<line x1="61.80" y1="423.30" x2="61.80" y2="605.70" stroke="#EBEBEB" stroke-width="0.7"/>
<line x1="79.70" y1="423.30" x2="79.70" y2="605.70" stroke="#EBEBEB" stroke-width="0.7"/>
<line x1="97.60" y1="423.30" x2="97.60" y2="605.70" stroke="#EBEBEB" stroke-width="0.7"/>
<line x1="115.50" y1="423.30" x2="115.50" y2="605.70" stroke="#EBEBEB" stroke-width="0.7"/>
<line x1="133.40" y1="423.30" x2="133.40" y2="605.70" stroke="#EBEBEB" stroke-width="0.7"/>
<line x1="151.30" y1="423.30" x2="151.30" y2="605.70" stroke="#EBEBEB" stroke-width="0.7"/>
<line x1="20.40" y1="486.80" x2="161.20" y2="486.80" stroke="#EBEBEB" stroke-width="0.7"/>
<line x1="20.40" y1="597.60" x2="161.20" y2="597.60" stroke="#EBEBEB" stroke-width="0.7"/>
<rect x="19.90" y="422.80" width="141.80" height="183.40" fill="none" stroke="#808080" stroke-width="0.9"/>
<line x1="17.90" y1="486.80" x2="19.90" y2="486.80" stroke="#555" stroke-width="0.6"/>
<text x="17.50" y="488.60" font-size="5.2" font-weight="normal" font-style="normal" text-anchor="end" fill="#7a7a7a">0.15</text>
<line x1="17.90" y1="597.60" x2="19.90" y2="597.60" stroke="#555" stroke-width="0.6"/>
<text x="17.50" y="599.40" font-size="5.2" font-weight="normal" font-style="normal" text-anchor="end" fill="#7a7a7a">-0.15</text>
<line x1="26.00" y1="606.20" x2="26.00" y2="608.20" stroke="#555" stroke-width="0.6"/>
<text x="26.00" y="613.60" font-size="5.2" font-weight="normal" font-style="normal" text-anchor="middle" fill="#7a7a7a">1</text>
<line x1="61.80" y1="606.20" x2="61.80" y2="608.20" stroke="#555" stroke-width="0.6"/>
<text x="61.80" y="613.60" font-size="5.2" font-weight="normal" font-style="normal" text-anchor="middle" fill="#7a7a7a">4</text>
<line x1="97.60" y1="606.20" x2="97.60" y2="608.20" stroke="#555" stroke-width="0.6"/>
<text x="97.60" y="613.60" font-size="5.2" font-weight="normal" font-style="normal" text-anchor="middle" fill="#7a7a7a">16</text>
<line x1="133.40" y1="606.20" x2="133.40" y2="608.20" stroke="#555" stroke-width="0.6"/>
<text x="133.40" y="613.60" font-size="5.2" font-weight="normal" font-style="normal" text-anchor="middle" fill="#7a7a7a">64</text>
<text x="7.00" y="521.80" font-size="8.23" font-weight="bold" font-style="normal" text-anchor="middle" fill="#000" transform="rotate(-90 7.0 521.8)">Fraction of Egl positive <tspan font-style="italic">oskar</tspan> mRNPs</text>
<text x="89.75" y="621.30" font-size="8.1" font-weight="bold" font-style="normal" text-anchor="middle" fill="#000">Number of <tspan font-style="italic">oskar</tspan> mRNA per mRNP</text>
<line x1="26.00" y1="510.50" x2="26.00" y2="545.10" stroke="#4a4a4a" stroke-width="0.9"/>
<line x1="22.80" y1="510.50" x2="29.20" y2="510.50" stroke="#4a4a4a" stroke-width="0.8"/>
<line x1="22.80" y1="545.10" x2="29.20" y2="545.10" stroke="#4a4a4a" stroke-width="0.8"/>
<line x1="43.90" y1="507.60" x2="43.90" y2="535.90" stroke="#4a4a4a" stroke-width="0.9"/>
<line x1="40.70" y1="507.60" x2="47.10" y2="507.60" stroke="#4a4a4a" stroke-width="0.8"/>
<line x1="40.70" y1="535.90" x2="47.10" y2="535.90" stroke="#4a4a4a" stroke-width="0.8"/>
<line x1="40.70" y1="511.00" x2="47.10" y2="511.00" stroke="#4a4a4a" stroke-width="0.8"/>
<line x1="40.70" y1="531.00" x2="47.10" y2="531.00" stroke="#4a4a4a" stroke-width="0.8"/>
<line x1="61.80" y1="501.90" x2="61.80" y2="552.30" stroke="#4a4a4a" stroke-width="0.9"/>
<line x1="58.60" y1="501.90" x2="65.00" y2="501.90" stroke="#4a4a4a" stroke-width="0.8"/>
<line x1="58.60" y1="552.30" x2="65.00" y2="552.30" stroke="#4a4a4a" stroke-width="0.8"/>
<line x1="58.60" y1="505.00" x2="65.00" y2="505.00" stroke="#4a4a4a" stroke-width="0.8"/>
<line x1="58.60" y1="514.00" x2="65.00" y2="514.00" stroke="#4a4a4a" stroke-width="0.8"/>
<line x1="58.60" y1="530.00" x2="65.00" y2="530.00" stroke="#4a4a4a" stroke-width="0.8"/>
<line x1="58.60" y1="548.00" x2="65.00" y2="548.00" stroke="#4a4a4a" stroke-width="0.8"/>
<line x1="79.70" y1="492.70" x2="79.70" y2="570.50" stroke="#4a4a4a" stroke-width="0.9"/>
<line x1="76.50" y1="492.70" x2="82.90" y2="492.70" stroke="#4a4a4a" stroke-width="0.8"/>
<line x1="76.50" y1="570.50" x2="82.90" y2="570.50" stroke="#4a4a4a" stroke-width="0.8"/>
<line x1="76.50" y1="497.00" x2="82.90" y2="497.00" stroke="#4a4a4a" stroke-width="0.8"/>
<line x1="76.50" y1="503.00" x2="82.90" y2="503.00" stroke="#4a4a4a" stroke-width="0.8"/>
<line x1="76.50" y1="528.00" x2="82.90" y2="528.00" stroke="#4a4a4a" stroke-width="0.8"/>
<line x1="76.50" y1="535.00" x2="82.90" y2="535.00" stroke="#4a4a4a" stroke-width="0.8"/>
<line x1="97.60" y1="470.70" x2="97.60" y2="580.30" stroke="#4a4a4a" stroke-width="0.9"/>
<line x1="94.40" y1="470.70" x2="100.80" y2="470.70" stroke="#4a4a4a" stroke-width="0.8"/>
<line x1="94.40" y1="580.30" x2="100.80" y2="580.30" stroke="#4a4a4a" stroke-width="0.8"/>
<line x1="94.40" y1="476.00" x2="100.80" y2="476.00" stroke="#4a4a4a" stroke-width="0.8"/>
<line x1="94.40" y1="490.00" x2="100.80" y2="490.00" stroke="#4a4a4a" stroke-width="0.8"/>
<line x1="94.40" y1="525.00" x2="100.80" y2="525.00" stroke="#4a4a4a" stroke-width="0.8"/>
<line x1="94.40" y1="553.00" x2="100.80" y2="553.00" stroke="#4a4a4a" stroke-width="0.8"/>
<line x1="115.50" y1="463.00" x2="115.50" y2="596.40" stroke="#4a4a4a" stroke-width="0.9"/>
<line x1="112.30" y1="463.00" x2="118.70" y2="463.00" stroke="#4a4a4a" stroke-width="0.8"/>
<line x1="112.30" y1="596.40" x2="118.70" y2="596.40" stroke="#4a4a4a" stroke-width="0.8"/>
<line x1="112.30" y1="466.00" x2="118.70" y2="466.00" stroke="#4a4a4a" stroke-width="0.8"/>
<line x1="112.30" y1="470.00" x2="118.70" y2="470.00" stroke="#4a4a4a" stroke-width="0.8"/>
<line x1="112.30" y1="476.00" x2="118.70" y2="476.00" stroke="#4a4a4a" stroke-width="0.8"/>
<line x1="112.30" y1="570.50" x2="118.70" y2="570.50" stroke="#4a4a4a" stroke-width="0.8"/>
<line x1="133.40" y1="486.90" x2="133.40" y2="551.40" stroke="#4a4a4a" stroke-width="0.9"/>
<line x1="130.20" y1="486.90" x2="136.60" y2="486.90" stroke="#4a4a4a" stroke-width="0.8"/>
<line x1="130.20" y1="551.40" x2="136.60" y2="551.40" stroke="#4a4a4a" stroke-width="0.8"/>
<line x1="130.20" y1="533.50" x2="136.60" y2="533.50" stroke="#4a4a4a" stroke-width="0.8"/>
<line x1="130.20" y1="548.00" x2="136.60" y2="548.00" stroke="#4a4a4a" stroke-width="0.8"/>
<line x1="151.30" y1="454.30" x2="151.30" y2="498.40" stroke="#4a4a4a" stroke-width="0.9"/>
<line x1="148.10" y1="454.30" x2="154.50" y2="454.30" stroke="#4a4a4a" stroke-width="0.8"/>
<line x1="148.10" y1="498.40" x2="154.50" y2="498.40" stroke="#4a4a4a" stroke-width="0.8"/>
<line x1="20.40" y1="542.20" x2="161.20" y2="542.20" stroke="#6a6a6a" stroke-width="1.0"/>
<polyline points="26.00,540.80 43.90,531.30 61.80,519.20 79.70,507.00 97.60,488.90 115.50,485.20 133.40,510.00 151.30,476.80" fill="none" stroke="#C592DE" stroke-width="0.65"/>
<polygon points="26.00,537.20 22.58,543.14 29.42,543.14" fill="none" stroke="#C592DE" stroke-width="0.8"/>
<circle cx="43.90" cy="531.30" r="2.60" fill="#C592DE"/>
<circle cx="61.80" cy="519.20" r="2.40" fill="#C592DE"/>
<circle cx="79.70" cy="507.00" r="2.20" fill="#C592DE"/>
<circle cx="97.60" cy="488.90" r="1.30" fill="#C592DE"/>
<circle cx="115.50" cy="485.20" r="1.30" fill="#C592DE"/>
<circle cx="133.40" cy="510.00" r="1.20" fill="#C592DE"/>
<circle cx="151.30" cy="476.80" r="1.20" fill="#C592DE"/>
<polyline points="26.00,526.40 43.90,527.80 61.80,540.00 79.70,546.50 97.60,538.80 115.50,532.10 133.40,543.70" fill="none" stroke="#5AA8E6" stroke-width="0.65"/>
<circle cx="26.00" cy="526.40" r="3.30" fill="#5AA8E6"/>
<circle cx="43.90" cy="527.80" r="3.00" fill="#5AA8E6"/>
<polygon points="61.80,537.00 58.95,541.95 64.65,541.95" fill="none" stroke="#5AA8E6" stroke-width="0.8"/>
<polygon points="79.70,544.10 77.42,548.06 81.98,548.06" fill="none" stroke="#5AA8E6" stroke-width="0.8"/>
<polygon points="97.60,536.60 95.51,540.23 99.69,540.23" fill="none" stroke="#5AA8E6" stroke-width="0.8"/>
<circle cx="115.50" cy="532.10" r="1.30" fill="#5AA8E6"/>
<circle cx="133.40" cy="543.70" r="1.20" fill="#5AA8E6"/>
<polyline points="26.00,517.10 43.90,512.80 61.80,510.00 79.70,512.80 97.60,514.80 115.50,503.30" fill="none" stroke="#C5D52C" stroke-width="0.65"/>
<circle cx="26.00" cy="517.10" r="2.90" fill="#C5D52C"/>
<circle cx="43.90" cy="512.80" r="3.50" fill="#C5D52C"/>
<circle cx="61.80" cy="510.00" r="3.00" fill="#C5D52C"/>
<circle cx="79.70" cy="512.80" r="2.50" fill="#C5D52C"/>
<circle cx="97.60" cy="514.80" r="1.30" fill="#C5D52C"/>
<polygon points="115.50,502.00 114.27,504.15 116.73,504.15" fill="none" stroke="#C5D52C" stroke-width="0.8"/>
<polyline points="26.00,524.40 43.90,522.00 61.80,518.30 79.70,517.70 97.60,522.60 115.50,540.00 133.40,546.50 151.30,554.30" fill="none" stroke="#5B4CC4" stroke-width="0.65"/>
<circle cx="26.00" cy="524.40" r="3.40" fill="#5B4CC4"/>
<circle cx="43.90" cy="522.00" r="3.20" fill="#5B4CC4"/>
<circle cx="61.80" cy="518.30" r="2.60" fill="#5B4CC4"/>
<circle cx="79.70" cy="517.70" r="2.00" fill="#5B4CC4"/>
<circle cx="97.60" cy="522.60" r="1.30" fill="#5B4CC4"/>
<circle cx="115.50" cy="540.00" r="1.30" fill="#5B4CC4"/>
<circle cx="133.40" cy="546.50" r="1.20" fill="#5B4CC4"/>
<polygon points="151.30,552.80 149.87,555.27 152.72,555.27" fill="none" stroke="#5B4CC4" stroke-width="0.8"/>
<circle cx="28.50" cy="432.80" r="2.80" fill="#5B4CC4"/>
<text x="35.50" y="435.30" font-size="7.2" font-weight="bold" font-style="normal" text-anchor="start" fill="#000"><tspan font-style="italic">BicD</tspan><tspan font-size="4.8" dy="-2.6">1</tspan><tspan dy="2.6">/+</tspan></text>
<circle cx="28.50" cy="441.80" r="2.80" fill="#C592DE"/>
<text x="35.50" y="444.30" font-size="7.2" font-weight="bold" font-style="normal" text-anchor="start" fill="#000"><tspan font-style="italic">BicD</tspan><tspan font-size="4.8" dy="-2.6">2</tspan><tspan dy="2.6">/+</tspan></text>
<circle cx="28.50" cy="451.30" r="2.80" fill="#5AA8E6"/>
<text x="35.50" y="453.80" font-size="7.2" font-weight="bold" font-style="normal" text-anchor="start" fill="#000">wild-type</text>
<circle cx="28.50" cy="460.30" r="2.80" fill="#C5D52C"/>
<text x="35.50" y="462.80" font-size="7.2" font-weight="bold" font-style="normal" text-anchor="start" fill="#000"><tspan font-style="italic">egl</tspan><tspan font-size="4.8" dy="-2.6">1</tspan><tspan dy="2.6" font-style="italic">/egl</tspan><tspan font-size="4.8" dy="-2.6">2</tspan></text>
<text x="165.90" y="433.40" font-size="14.2" font-weight="bold" font-style="normal" text-anchor="start" fill="#000">F'</text>
<rect x="184.40" y="422.70" width="147.30" height="183.30" fill="#fff" stroke="none" stroke-width="1"/>
<line x1="191.20" y1="423.20" x2="191.20" y2="605.50" stroke="#EBEBEB" stroke-width="0.7"/>
<line x1="209.80" y1="423.20" x2="209.80" y2="605.50" stroke="#EBEBEB" stroke-width="0.7"/>
<line x1="228.40" y1="423.20" x2="228.40" y2="605.50" stroke="#EBEBEB" stroke-width="0.7"/>
<line x1="247.00" y1="423.20" x2="247.00" y2="605.50" stroke="#EBEBEB" stroke-width="0.7"/>
<line x1="265.60" y1="423.20" x2="265.60" y2="605.50" stroke="#EBEBEB" stroke-width="0.7"/>
<line x1="284.20" y1="423.20" x2="284.20" y2="605.50" stroke="#EBEBEB" stroke-width="0.7"/>
<line x1="302.80" y1="423.20" x2="302.80" y2="605.50" stroke="#EBEBEB" stroke-width="0.7"/>
<line x1="321.40" y1="423.20" x2="321.40" y2="605.50" stroke="#EBEBEB" stroke-width="0.7"/>
<line x1="184.90" y1="474.20" x2="331.20" y2="474.20" stroke="#EBEBEB" stroke-width="0.7"/>
<line x1="184.90" y1="529.00" x2="331.20" y2="529.00" stroke="#EBEBEB" stroke-width="0.7"/>
<line x1="184.90" y1="583.80" x2="331.20" y2="583.80" stroke="#EBEBEB" stroke-width="0.7"/>
<rect x="184.40" y="422.70" width="147.30" height="183.30" fill="none" stroke="#808080" stroke-width="0.9"/>
<line x1="182.40" y1="474.20" x2="184.40" y2="474.20" stroke="#555" stroke-width="0.6"/>
<text x="182.00" y="476.00" font-size="5.2" font-weight="normal" font-style="normal" text-anchor="end" fill="#7a7a7a">10</text>
<line x1="182.40" y1="583.80" x2="184.40" y2="583.80" stroke="#555" stroke-width="0.6"/>
<text x="182.00" y="585.60" font-size="5.2" font-weight="normal" font-style="normal" text-anchor="end" fill="#7a7a7a">1</text>
<line x1="191.20" y1="606.00" x2="191.20" y2="608.00" stroke="#555" stroke-width="0.6"/>
<text x="191.20" y="613.20" font-size="5.2" font-weight="normal" font-style="normal" text-anchor="middle" fill="#7a7a7a">1</text>
<line x1="228.40" y1="606.00" x2="228.40" y2="608.00" stroke="#555" stroke-width="0.6"/>
<text x="228.40" y="613.20" font-size="5.2" font-weight="normal" font-style="normal" text-anchor="middle" fill="#7a7a7a">4</text>
<line x1="265.60" y1="606.00" x2="265.60" y2="608.00" stroke="#555" stroke-width="0.6"/>
<text x="265.60" y="613.20" font-size="5.2" font-weight="normal" font-style="normal" text-anchor="middle" fill="#7a7a7a">16</text>
<line x1="302.80" y1="606.00" x2="302.80" y2="608.00" stroke="#555" stroke-width="0.6"/>
<text x="302.80" y="613.20" font-size="5.2" font-weight="normal" font-style="normal" text-anchor="middle" fill="#7a7a7a">64</text>
<text x="174.20" y="525.20" font-size="8.2" font-weight="bold" font-style="normal" text-anchor="middle" fill="#000" transform="rotate(-90 174.2 525.2)">Normalized Egl-GFP signal intensity</text>
<text x="258.85" y="621.30" font-size="8.2" font-weight="bold" font-style="normal" text-anchor="middle" fill="#000">Number of <tspan font-style="italic">oskar</tspan> mRNA per mRNP</text>
<line x1="228.40" y1="518.00" x2="228.40" y2="522.00" stroke="#4a4a4a" stroke-width="0.85"/>
<line x1="225.40" y1="518.00" x2="231.40" y2="518.00" stroke="#4a4a4a" stroke-width="0.8"/>
<line x1="225.40" y1="522.00" x2="231.40" y2="522.00" stroke="#4a4a4a" stroke-width="0.8"/>
<line x1="228.40" y1="550.00" x2="228.40" y2="553.00" stroke="#4a4a4a" stroke-width="0.85"/>
<line x1="225.40" y1="550.00" x2="231.40" y2="550.00" stroke="#4a4a4a" stroke-width="0.8"/>
<line x1="225.40" y1="553.00" x2="231.40" y2="553.00" stroke="#4a4a4a" stroke-width="0.8"/>
<line x1="228.40" y1="553.00" x2="228.40" y2="557.00" stroke="#4a4a4a" stroke-width="0.85"/>
<line x1="225.40" y1="553.00" x2="231.40" y2="553.00" stroke="#4a4a4a" stroke-width="0.8"/>
<line x1="225.40" y1="557.00" x2="231.40" y2="557.00" stroke="#4a4a4a" stroke-width="0.8"/>
<line x1="247.00" y1="491.30" x2="247.00" y2="495.10" stroke="#4a4a4a" stroke-width="0.85"/>
<line x1="244.00" y1="491.30" x2="250.00" y2="491.30" stroke="#4a4a4a" stroke-width="0.8"/>
<line x1="244.00" y1="495.10" x2="250.00" y2="495.10" stroke="#4a4a4a" stroke-width="0.8"/>
<line x1="247.00" y1="526.40" x2="247.00" y2="530.30" stroke="#4a4a4a" stroke-width="0.85"/>
<line x1="244.00" y1="526.40" x2="250.00" y2="526.40" stroke="#4a4a4a" stroke-width="0.8"/>
<line x1="244.00" y1="530.30" x2="250.00" y2="530.30" stroke="#4a4a4a" stroke-width="0.8"/>
<line x1="247.00" y1="539.80" x2="247.00" y2="546.40" stroke="#4a4a4a" stroke-width="0.85"/>
<line x1="244.00" y1="539.80" x2="250.00" y2="539.80" stroke="#4a4a4a" stroke-width="0.8"/>
<line x1="244.00" y1="546.40" x2="250.00" y2="546.40" stroke="#4a4a4a" stroke-width="0.8"/>
<line x1="247.00" y1="552.70" x2="247.00" y2="559.20" stroke="#4a4a4a" stroke-width="0.85"/>
<line x1="244.00" y1="552.70" x2="250.00" y2="552.70" stroke="#4a4a4a" stroke-width="0.8"/>
<line x1="244.00" y1="559.20" x2="250.00" y2="559.20" stroke="#4a4a4a" stroke-width="0.8"/>
<line x1="265.60" y1="472.20" x2="265.60" y2="478.70" stroke="#4a4a4a" stroke-width="0.85"/>
<line x1="262.60" y1="472.20" x2="268.60" y2="472.20" stroke="#4a4a4a" stroke-width="0.8"/>
<line x1="262.60" y1="478.70" x2="268.60" y2="478.70" stroke="#4a4a4a" stroke-width="0.8"/>
<line x1="265.60" y1="501.10" x2="265.60" y2="506.20" stroke="#4a4a4a" stroke-width="0.85"/>
<line x1="262.60" y1="501.10" x2="268.60" y2="501.10" stroke="#4a4a4a" stroke-width="0.8"/>
<line x1="262.60" y1="506.20" x2="268.60" y2="506.20" stroke="#4a4a4a" stroke-width="0.8"/>
<line x1="265.60" y1="532.40" x2="265.60" y2="539.80" stroke="#4a4a4a" stroke-width="0.85"/>
<line x1="262.60" y1="532.40" x2="268.60" y2="532.40" stroke="#4a4a4a" stroke-width="0.8"/>
<line x1="262.60" y1="539.80" x2="268.60" y2="539.80" stroke="#4a4a4a" stroke-width="0.8"/>
<line x1="265.60" y1="553.30" x2="265.60" y2="565.20" stroke="#4a4a4a" stroke-width="0.85"/>
<line x1="262.60" y1="553.30" x2="268.60" y2="553.30" stroke="#4a4a4a" stroke-width="0.8"/>
<line x1="262.60" y1="565.20" x2="268.60" y2="565.20" stroke="#4a4a4a" stroke-width="0.8"/>
<line x1="284.20" y1="461.80" x2="284.20" y2="473.70" stroke="#4a4a4a" stroke-width="0.85"/>
<line x1="281.20" y1="461.80" x2="287.20" y2="461.80" stroke="#4a4a4a" stroke-width="0.8"/>
<line x1="281.20" y1="473.70" x2="287.20" y2="473.70" stroke="#4a4a4a" stroke-width="0.8"/>
<line x1="284.20" y1="490.00" x2="284.20" y2="497.20" stroke="#4a4a4a" stroke-width="0.85"/>
<line x1="281.20" y1="490.00" x2="287.20" y2="490.00" stroke="#4a4a4a" stroke-width="0.8"/>
<line x1="281.20" y1="497.20" x2="287.20" y2="497.20" stroke="#4a4a4a" stroke-width="0.8"/>
<line x1="284.20" y1="530.00" x2="284.20" y2="543.40" stroke="#4a4a4a" stroke-width="0.85"/>
<line x1="281.20" y1="530.00" x2="287.20" y2="530.00" stroke="#4a4a4a" stroke-width="0.8"/>
<line x1="281.20" y1="543.40" x2="287.20" y2="543.40" stroke="#4a4a4a" stroke-width="0.8"/>
<line x1="284.20" y1="556.80" x2="284.20" y2="568.80" stroke="#4a4a4a" stroke-width="0.85"/>
<line x1="281.20" y1="556.80" x2="287.20" y2="556.80" stroke="#4a4a4a" stroke-width="0.8"/>
<line x1="281.20" y1="568.80" x2="287.20" y2="568.80" stroke="#4a4a4a" stroke-width="0.8"/>
<line x1="302.80" y1="494.20" x2="302.80" y2="501.10" stroke="#4a4a4a" stroke-width="0.85"/>
<line x1="299.80" y1="494.20" x2="305.80" y2="494.20" stroke="#4a4a4a" stroke-width="0.8"/>
<line x1="299.80" y1="501.10" x2="305.80" y2="501.10" stroke="#4a4a4a" stroke-width="0.8"/>
<line x1="302.80" y1="495.10" x2="302.80" y2="527.30" stroke="#4a4a4a" stroke-width="0.85"/>
<line x1="299.80" y1="495.10" x2="305.80" y2="495.10" stroke="#4a4a4a" stroke-width="0.8"/>
<line x1="299.80" y1="527.30" x2="305.80" y2="527.30" stroke="#4a4a4a" stroke-width="0.8"/>
<line x1="302.80" y1="530.90" x2="302.80" y2="556.20" stroke="#4a4a4a" stroke-width="0.85"/>
<line x1="299.80" y1="530.90" x2="305.80" y2="530.90" stroke="#4a4a4a" stroke-width="0.8"/>
<line x1="299.80" y1="556.20" x2="305.80" y2="556.20" stroke="#4a4a4a" stroke-width="0.8"/>
<line x1="302.80" y1="549.40" x2="302.80" y2="565.80" stroke="#4a4a4a" stroke-width="0.85"/>
<line x1="299.80" y1="549.40" x2="305.80" y2="549.40" stroke="#4a4a4a" stroke-width="0.8"/>
<line x1="299.80" y1="565.80" x2="305.80" y2="565.80" stroke="#4a4a4a" stroke-width="0.8"/>
<line x1="321.40" y1="522.00" x2="321.40" y2="571.20" stroke="#4a4a4a" stroke-width="0.85"/>
<line x1="318.40" y1="522.00" x2="324.40" y2="522.00" stroke="#4a4a4a" stroke-width="0.8"/>
<line x1="318.40" y1="571.20" x2="324.40" y2="571.20" stroke="#4a4a4a" stroke-width="0.8"/>
<line x1="321.40" y1="526.50" x2="321.40" y2="536.00" stroke="#4a4a4a" stroke-width="0.85"/>
<line x1="318.40" y1="526.50" x2="324.40" y2="526.50" stroke="#4a4a4a" stroke-width="0.8"/>
<line x1="318.40" y1="536.00" x2="324.40" y2="536.00" stroke="#4a4a4a" stroke-width="0.8"/>
<line x1="321.40" y1="530.00" x2="321.40" y2="566.00" stroke="#4a4a4a" stroke-width="0.85"/>
<line x1="318.40" y1="530.00" x2="324.40" y2="530.00" stroke="#4a4a4a" stroke-width="0.8"/>
<line x1="318.40" y1="566.00" x2="324.40" y2="566.00" stroke="#4a4a4a" stroke-width="0.8"/>
<polyline points="191.20,557.70 209.80,557.10 228.40,554.80 247.00,554.80 265.60,559.20 284.20,562.20 302.80,557.70 321.40,542.80" fill="none" stroke="#C5D52C" stroke-width="0.65"/>
<circle cx="191.20" cy="557.70" r="2.80" fill="#C5D52C"/>
<circle cx="209.80" cy="557.10" r="3.00" fill="#C5D52C"/>
<circle cx="228.40" cy="554.80" r="2.40" fill="#C5D52C"/>
<circle cx="247.00" cy="554.80" r="1.40" fill="#C5D52C"/>
<circle cx="265.60" cy="559.20" r="1.20" fill="#C5D52C"/>
<circle cx="284.20" cy="562.20" r="1.20" fill="#C5D52C"/>
<circle cx="302.80" cy="557.70" r="1.20" fill="#C5D52C"/>
<circle cx="321.40" cy="542.80" r="1.20" fill="#C5D52C"/>
<polyline points="191.20,559.20 209.80,555.60 228.40,545.20 247.00,528.50 265.60,503.50 284.20,493.70 302.80,499.60 321.40,534.50" fill="none" stroke="#C592DE" stroke-width="0.65"/>
<polygon points="191.20,555.60 187.78,561.54 194.62,561.54" fill="none" stroke="#C592DE" stroke-width="0.8"/>
<circle cx="209.80" cy="555.60" r="2.80" fill="#C592DE"/>
<circle cx="228.40" cy="545.20" r="1.80" fill="#C592DE"/>
<circle cx="247.00" cy="528.50" r="1.40" fill="#C592DE"/>
<circle cx="265.60" cy="503.50" r="1.30" fill="#C592DE"/>
<circle cx="284.20" cy="493.70" r="1.30" fill="#C592DE"/>
<circle cx="302.80" cy="499.60" r="1.20" fill="#C592DE"/>
<circle cx="321.40" cy="534.50" r="1.20" fill="#C592DE"/>
<polyline points="191.20,556.20 209.80,556.20 228.40,551.80 247.00,542.80 265.60,536.00 284.20,536.00 302.80,542.80 321.40,554.80" fill="none" stroke="#5AA8E6" stroke-width="0.65"/>
<circle cx="191.20" cy="556.20" r="3.30" fill="#5AA8E6"/>
<circle cx="209.80" cy="556.20" r="3.00" fill="#5AA8E6"/>
<circle cx="228.40" cy="551.80" r="2.00" fill="#5AA8E6"/>
<polygon points="247.00,540.40 244.72,544.36 249.28,544.36" fill="none" stroke="#5AA8E6" stroke-width="0.8"/>
<circle cx="265.60" cy="536.00" r="1.30" fill="#5AA8E6"/>
<circle cx="284.20" cy="536.00" r="1.20" fill="#5AA8E6"/>
<circle cx="302.80" cy="542.80" r="1.20" fill="#5AA8E6"/>
<circle cx="321.40" cy="554.80" r="1.20" fill="#5AA8E6"/>
<polyline points="191.20,541.30 209.80,536.30 228.40,519.90 247.00,493.10 265.60,475.80 284.20,467.70 302.80,508.60 321.40,539.80" fill="none" stroke="#5B4CC4" stroke-width="0.65"/>
<circle cx="191.20" cy="541.30" r="3.40" fill="#5B4CC4"/>
<circle cx="209.80" cy="536.30" r="3.30" fill="#5B4CC4"/>
<circle cx="228.40" cy="519.90" r="1.90" fill="#5B4CC4"/>
<polygon points="247.00,490.70 244.72,494.66 249.28,494.66" fill="none" stroke="#5B4CC4" stroke-width="0.8"/>
<polygon points="265.60,473.80 263.70,477.10 267.50,477.10" fill="none" stroke="#5B4CC4" stroke-width="0.8"/>
<polygon points="284.20,466.40 282.96,468.55 285.44,468.55" fill="none" stroke="#5B4CC4" stroke-width="0.8"/>
<circle cx="302.80" cy="508.60" r="1.30" fill="#5B4CC4"/>
<circle cx="321.40" cy="539.80" r="1.50" fill="#5B4CC4"/>
<text x="-0.80" y="641.80" font-size="14.2" font-weight="bold" font-style="normal" text-anchor="start" fill="#000">G</text>
<rect x="17.30" y="631.40" width="142.30" height="182.80" fill="#fff" stroke="none" stroke-width="1"/>
<line x1="23.70" y1="631.90" x2="23.70" y2="813.70" stroke="#EBEBEB" stroke-width="0.7"/>
<line x1="41.75" y1="631.90" x2="41.75" y2="813.70" stroke="#EBEBEB" stroke-width="0.7"/>
<line x1="59.80" y1="631.90" x2="59.80" y2="813.70" stroke="#EBEBEB" stroke-width="0.7"/>
<line x1="77.85" y1="631.90" x2="77.85" y2="813.70" stroke="#EBEBEB" stroke-width="0.7"/>
<line x1="95.90" y1="631.90" x2="95.90" y2="813.70" stroke="#EBEBEB" stroke-width="0.7"/>
<line x1="113.95" y1="631.90" x2="113.95" y2="813.70" stroke="#EBEBEB" stroke-width="0.7"/>
<line x1="132.00" y1="631.90" x2="132.00" y2="813.70" stroke="#EBEBEB" stroke-width="0.7"/>
<line x1="150.05" y1="631.90" x2="150.05" y2="813.70" stroke="#EBEBEB" stroke-width="0.7"/>
<line x1="17.80" y1="669.40" x2="159.10" y2="669.40" stroke="#EBEBEB" stroke-width="0.7"/>
<line x1="17.80" y1="715.20" x2="159.10" y2="715.20" stroke="#EBEBEB" stroke-width="0.7"/>
<line x1="17.80" y1="806.40" x2="159.10" y2="806.40" stroke="#EBEBEB" stroke-width="0.7"/>
<rect x="17.30" y="631.40" width="142.30" height="182.80" fill="none" stroke="#808080" stroke-width="0.9"/>
<line x1="15.30" y1="715.20" x2="17.30" y2="715.20" stroke="#555" stroke-width="0.6"/>
<text x="14.90" y="717.00" font-size="5.2" font-weight="normal" font-style="normal" text-anchor="end" fill="#7a7a7a">0.15</text>
<line x1="15.30" y1="806.40" x2="17.30" y2="806.40" stroke="#555" stroke-width="0.6"/>
<text x="14.90" y="808.20" font-size="5.2" font-weight="normal" font-style="normal" text-anchor="end" fill="#7a7a7a">-0.15</text>
<line x1="23.70" y1="814.20" x2="23.70" y2="816.20" stroke="#555" stroke-width="0.6"/>
<text x="23.70" y="821.30" font-size="5.2" font-weight="normal" font-style="normal" text-anchor="middle" fill="#7a7a7a">1</text>
<line x1="59.80" y1="814.20" x2="59.80" y2="816.20" stroke="#555" stroke-width="0.6"/>
<text x="59.80" y="821.30" font-size="5.2" font-weight="normal" font-style="normal" text-anchor="middle" fill="#7a7a7a">4</text>
<line x1="95.90" y1="814.20" x2="95.90" y2="816.20" stroke="#555" stroke-width="0.6"/>
<text x="95.90" y="821.30" font-size="5.2" font-weight="normal" font-style="normal" text-anchor="middle" fill="#7a7a7a">16</text>
<line x1="132.00" y1="814.20" x2="132.00" y2="816.20" stroke="#555" stroke-width="0.6"/>
<text x="132.00" y="821.30" font-size="5.2" font-weight="normal" font-style="normal" text-anchor="middle" fill="#7a7a7a">64</text>
<text x="7.20" y="729.50" font-size="8.23" font-weight="bold" font-style="normal" text-anchor="middle" fill="#000" transform="rotate(-90 7.2 729.5)">Fraction of Egl positive <tspan font-style="italic">oskar</tspan> mRNPs</text>
<text x="89.30" y="830.10" font-size="8.17" font-weight="bold" font-style="normal" text-anchor="middle" fill="#000">Number of <tspan font-style="italic">oskar</tspan> mRNA per mRNP</text>
<line x1="23.70" y1="744.00" x2="23.70" y2="761.40" stroke="#4a4a4a" stroke-width="0.9"/>
<line x1="20.40" y1="744.00" x2="27.00" y2="744.00" stroke="#4a4a4a" stroke-width="0.8"/>
<line x1="20.40" y1="761.40" x2="27.00" y2="761.40" stroke="#4a4a4a" stroke-width="0.8"/>
<line x1="41.75" y1="743.00" x2="41.75" y2="757.00" stroke="#4a4a4a" stroke-width="0.9"/>
<line x1="38.45" y1="743.00" x2="45.05" y2="743.00" stroke="#4a4a4a" stroke-width="0.8"/>
<line x1="38.45" y1="757.00" x2="45.05" y2="757.00" stroke="#4a4a4a" stroke-width="0.8"/>
<line x1="38.45" y1="746.00" x2="45.05" y2="746.00" stroke="#4a4a4a" stroke-width="0.8"/>
<line x1="38.45" y1="754.00" x2="45.05" y2="754.00" stroke="#4a4a4a" stroke-width="0.8"/>
<line x1="59.80" y1="729.00" x2="59.80" y2="750.00" stroke="#4a4a4a" stroke-width="0.9"/>
<line x1="56.50" y1="729.00" x2="63.10" y2="729.00" stroke="#4a4a4a" stroke-width="0.8"/>
<line x1="56.50" y1="750.00" x2="63.10" y2="750.00" stroke="#4a4a4a" stroke-width="0.8"/>
<line x1="56.50" y1="733.00" x2="63.10" y2="733.00" stroke="#4a4a4a" stroke-width="0.8"/>
<line x1="56.50" y1="747.00" x2="63.10" y2="747.00" stroke="#4a4a4a" stroke-width="0.8"/>
<line x1="77.85" y1="715.20" x2="77.85" y2="777.90" stroke="#4a4a4a" stroke-width="0.9"/>
<line x1="74.55" y1="715.20" x2="81.15" y2="715.20" stroke="#4a4a4a" stroke-width="0.8"/>
<line x1="74.55" y1="777.90" x2="81.15" y2="777.90" stroke="#4a4a4a" stroke-width="0.8"/>
<line x1="74.55" y1="739.50" x2="81.15" y2="739.50" stroke="#4a4a4a" stroke-width="0.8"/>
<line x1="74.55" y1="741.80" x2="81.15" y2="741.80" stroke="#4a4a4a" stroke-width="0.8"/>
<line x1="95.90" y1="664.70" x2="95.90" y2="707.60" stroke="#4a4a4a" stroke-width="0.9"/>
<line x1="92.60" y1="664.70" x2="99.20" y2="664.70" stroke="#4a4a4a" stroke-width="0.8"/>
<line x1="92.60" y1="707.60" x2="99.20" y2="707.60" stroke="#4a4a4a" stroke-width="0.8"/>
<line x1="95.90" y1="763.10" x2="95.90" y2="800.70" stroke="#4a4a4a" stroke-width="0.9"/>
<line x1="92.60" y1="763.10" x2="99.20" y2="763.10" stroke="#4a4a4a" stroke-width="0.8"/>
<line x1="92.60" y1="800.70" x2="99.20" y2="800.70" stroke="#4a4a4a" stroke-width="0.8"/>
<line x1="113.95" y1="684.50" x2="113.95" y2="712.20" stroke="#4a4a4a" stroke-width="0.9"/>
<line x1="110.65" y1="684.50" x2="117.25" y2="684.50" stroke="#4a4a4a" stroke-width="0.8"/>
<line x1="110.65" y1="712.20" x2="117.25" y2="712.20" stroke="#4a4a4a" stroke-width="0.8"/>
<line x1="132.00" y1="797.00" x2="132.00" y2="805.00" stroke="#4a4a4a" stroke-width="0.9"/>
<line x1="128.70" y1="797.00" x2="135.30" y2="797.00" stroke="#4a4a4a" stroke-width="0.8"/>
<line x1="128.70" y1="805.00" x2="135.30" y2="805.00" stroke="#4a4a4a" stroke-width="0.8"/>
<line x1="17.80" y1="760.60" x2="159.10" y2="760.60" stroke="#6a6a6a" stroke-width="1.0"/>
<polygon points="23.70,751.90 20.28,757.84 27.12,757.84" fill="none" stroke="#D9503A" stroke-width="0.9"/>
<circle cx="41.75" cy="751.50" r="2.80" fill="#C8472C"/>
<circle cx="59.80" cy="738.00" r="2.60" fill="#C8472C"/>
<circle cx="77.85" cy="728.50" r="2.40" fill="#C8472C"/>
<circle cx="95.90" cy="686.00" r="1.30" fill="#C8472C"/>
<circle cx="113.95" cy="698.40" r="1.20" fill="#C8472C"/>
<circle cx="23.70" cy="751.00" r="3.00" fill="#B8A52C"/>
<circle cx="41.75" cy="749.30" r="3.30" fill="#B8A52C"/>
<circle cx="59.80" cy="742.00" r="2.70" fill="#B8A52C"/>
<polygon points="77.85,756.40 75.57,760.36 80.13,760.36" fill="none" stroke="#B8A52C" stroke-width="0.8"/>
<circle cx="95.90" cy="782.20" r="1.30" fill="#B8A52C"/>
<polygon points="113.95,787.40 111.86,791.03 116.04,791.03" fill="none" stroke="#B8A52C" stroke-width="0.8"/>
<circle cx="132.00" cy="802.00" r="1.30" fill="#B8A52C"/>
<polygon points="150.05,756.60 147.96,760.23 152.14,760.23" fill="none" stroke="#B8A52C" stroke-width="0.8"/>
<circle cx="27.30" cy="642.70" r="2.90" fill="#C8472C"/>
<circle cx="27.30" cy="651.90" r="2.90" fill="#B8A52C"/>
<text x="34.60" y="645.60" font-size="7.05" font-weight="bold" font-style="italic" text-anchor="start" fill="#000">stau RNAi</text>
<text x="34.60" y="654.80" font-size="7.05" font-weight="bold" font-style="italic" text-anchor="start" fill="#000">control</text>
<text x="165.90" y="642.30" font-size="14.2" font-weight="bold" font-style="normal" text-anchor="start" fill="#000">G'</text>
<rect x="184.40" y="631.30" width="147.30" height="183.50" fill="#fff" stroke="none" stroke-width="1"/>
<line x1="190.80" y1="631.80" x2="190.80" y2="814.30" stroke="#EBEBEB" stroke-width="0.7"/>
<line x1="209.40" y1="631.80" x2="209.40" y2="814.30" stroke="#EBEBEB" stroke-width="0.7"/>
<line x1="228.00" y1="631.80" x2="228.00" y2="814.30" stroke="#EBEBEB" stroke-width="0.7"/>
<line x1="246.60" y1="631.80" x2="246.60" y2="814.30" stroke="#EBEBEB" stroke-width="0.7"/>
<line x1="265.20" y1="631.80" x2="265.20" y2="814.30" stroke="#EBEBEB" stroke-width="0.7"/>
<line x1="283.80" y1="631.80" x2="283.80" y2="814.30" stroke="#EBEBEB" stroke-width="0.7"/>
<line x1="302.40" y1="631.80" x2="302.40" y2="814.30" stroke="#EBEBEB" stroke-width="0.7"/>
<line x1="321.00" y1="631.80" x2="321.00" y2="814.30" stroke="#EBEBEB" stroke-width="0.7"/>
<line x1="184.90" y1="682.70" x2="331.20" y2="682.70" stroke="#EBEBEB" stroke-width="0.7"/>
<line x1="184.90" y1="737.50" x2="331.20" y2="737.50" stroke="#EBEBEB" stroke-width="0.7"/>
<rect x="184.40" y="631.30" width="147.30" height="183.50" fill="none" stroke="#808080" stroke-width="0.9"/>
<line x1="184.90" y1="792.90" x2="331.20" y2="792.90" stroke="#777" stroke-width="1.0"/>
<line x1="182.40" y1="682.70" x2="184.40" y2="682.70" stroke="#555" stroke-width="0.6"/>
<text x="182.00" y="684.50" font-size="5.2" font-weight="normal" font-style="normal" text-anchor="end" fill="#7a7a7a">10</text>
<line x1="182.40" y1="792.70" x2="184.40" y2="792.70" stroke="#555" stroke-width="0.6"/>
<text x="182.00" y="794.50" font-size="5.2" font-weight="normal" font-style="normal" text-anchor="end" fill="#7a7a7a">1</text>
<line x1="190.80" y1="814.80" x2="190.80" y2="816.80" stroke="#555" stroke-width="0.6"/>
<text x="190.80" y="822.00" font-size="5.2" font-weight="normal" font-style="normal" text-anchor="middle" fill="#7a7a7a">1</text>
<line x1="228.00" y1="814.80" x2="228.00" y2="816.80" stroke="#555" stroke-width="0.6"/>
<text x="228.00" y="822.00" font-size="5.2" font-weight="normal" font-style="normal" text-anchor="middle" fill="#7a7a7a">4</text>
<line x1="265.20" y1="814.80" x2="265.20" y2="816.80" stroke="#555" stroke-width="0.6"/>
<text x="265.20" y="822.00" font-size="5.2" font-weight="normal" font-style="normal" text-anchor="middle" fill="#7a7a7a">16</text>
<line x1="302.40" y1="814.80" x2="302.40" y2="816.80" stroke="#555" stroke-width="0.6"/>
<text x="302.40" y="822.00" font-size="5.2" font-weight="normal" font-style="normal" text-anchor="middle" fill="#7a7a7a">64</text>
<text x="173.80" y="746.80" font-size="8.15" font-weight="bold" font-style="normal" text-anchor="middle" fill="#000" transform="rotate(-90 173.8 746.8)">Normalized Egl-GFP signal intensity</text>
<text x="260.80" y="829.90" font-size="8.2" font-weight="bold" font-style="normal" text-anchor="middle" fill="#000">Number of <tspan font-style="italic">oskar</tspan> mRNA per mRNP</text>
<line x1="246.60" y1="766.00" x2="246.60" y2="775.00" stroke="#4a4a4a" stroke-width="0.9"/>
<line x1="243.30" y1="766.00" x2="249.90" y2="766.00" stroke="#4a4a4a" stroke-width="0.8"/>
<line x1="243.30" y1="775.00" x2="249.90" y2="775.00" stroke="#4a4a4a" stroke-width="0.8"/>
<line x1="265.20" y1="752.50" x2="265.20" y2="761.50" stroke="#4a4a4a" stroke-width="0.9"/>
<line x1="261.90" y1="752.50" x2="268.50" y2="752.50" stroke="#4a4a4a" stroke-width="0.8"/>
<line x1="261.90" y1="761.50" x2="268.50" y2="761.50" stroke="#4a4a4a" stroke-width="0.8"/>
<line x1="265.20" y1="764.80" x2="265.20" y2="781.20" stroke="#4a4a4a" stroke-width="0.9"/>
<line x1="261.90" y1="764.80" x2="268.50" y2="764.80" stroke="#4a4a4a" stroke-width="0.8"/>
<line x1="261.90" y1="781.20" x2="268.50" y2="781.20" stroke="#4a4a4a" stroke-width="0.8"/>
<line x1="283.80" y1="732.70" x2="283.80" y2="743.80" stroke="#4a4a4a" stroke-width="0.9"/>
<line x1="280.50" y1="732.70" x2="287.10" y2="732.70" stroke="#4a4a4a" stroke-width="0.8"/>
<line x1="280.50" y1="743.80" x2="287.10" y2="743.80" stroke="#4a4a4a" stroke-width="0.8"/>
<line x1="283.80" y1="775.50" x2="283.80" y2="783.00" stroke="#4a4a4a" stroke-width="0.9"/>
<line x1="280.50" y1="775.50" x2="287.10" y2="775.50" stroke="#4a4a4a" stroke-width="0.8"/>
<line x1="280.50" y1="783.00" x2="287.10" y2="783.00" stroke="#4a4a4a" stroke-width="0.8"/>
<line x1="302.40" y1="700.00" x2="302.40" y2="730.80" stroke="#4a4a4a" stroke-width="0.9"/>
<line x1="299.10" y1="700.00" x2="305.70" y2="700.00" stroke="#4a4a4a" stroke-width="0.8"/>
<line x1="299.10" y1="730.80" x2="305.70" y2="730.80" stroke="#4a4a4a" stroke-width="0.8"/>
<line x1="302.40" y1="779.00" x2="302.40" y2="789.50" stroke="#4a4a4a" stroke-width="0.9"/>
<line x1="299.10" y1="779.00" x2="305.70" y2="779.00" stroke="#4a4a4a" stroke-width="0.8"/>
<line x1="299.10" y1="789.50" x2="305.70" y2="789.50" stroke="#4a4a4a" stroke-width="0.8"/>
<line x1="321.00" y1="688.00" x2="321.00" y2="717.30" stroke="#4a4a4a" stroke-width="0.9"/>
<line x1="317.70" y1="688.00" x2="324.30" y2="688.00" stroke="#4a4a4a" stroke-width="0.8"/>
<line x1="317.70" y1="717.30" x2="324.30" y2="717.30" stroke="#4a4a4a" stroke-width="0.8"/>
<line x1="321.00" y1="785.00" x2="321.00" y2="795.00" stroke="#4a4a4a" stroke-width="0.9"/>
<line x1="317.70" y1="785.00" x2="324.30" y2="785.00" stroke="#4a4a4a" stroke-width="0.8"/>
<line x1="317.70" y1="795.00" x2="324.30" y2="795.00" stroke="#4a4a4a" stroke-width="0.8"/>
<polygon points="190.80,773.70 187.19,779.97 194.41,779.97" fill="none" stroke="#E07A6A" stroke-width="0.9"/>
<circle cx="209.40" cy="774.00" r="2.80" fill="#C8472C"/>
<circle cx="228.00" cy="772.00" r="2.70" fill="#C8472C"/>
<circle cx="246.60" cy="770.20" r="2.20" fill="#C8472C"/>
<circle cx="265.20" cy="757.10" r="1.70" fill="#C8472C"/>
<circle cx="283.80" cy="737.90" r="1.30" fill="#C8472C"/>
<circle cx="302.40" cy="713.50" r="1.20" fill="#C8472C"/>
<circle cx="321.00" cy="700.00" r="1.20" fill="#C8472C"/>
<circle cx="190.80" cy="777.00" r="2.90" fill="#B8A52C"/>
<circle cx="209.40" cy="777.00" r="3.20" fill="#B8A52C"/>
<circle cx="228.00" cy="773.70" r="3.00" fill="#B8A52C"/>
<line x1="190.80" y1="775.00" x2="190.80" y2="779.50" stroke="#333" stroke-width="0.7"/>
<line x1="188.40" y1="775.00" x2="193.20" y2="775.00" stroke="#333" stroke-width="0.7"/>
<line x1="188.40" y1="779.50" x2="193.20" y2="779.50" stroke="#333" stroke-width="0.7"/>
<line x1="209.40" y1="772.20" x2="209.40" y2="776.00" stroke="#333" stroke-width="0.7"/>
<line x1="207.00" y1="772.20" x2="211.80" y2="772.20" stroke="#333" stroke-width="0.7"/>
<line x1="207.00" y1="776.00" x2="211.80" y2="776.00" stroke="#333" stroke-width="0.7"/>
<line x1="209.40" y1="775.50" x2="209.40" y2="780.80" stroke="#333" stroke-width="0.7"/>
<line x1="207.00" y1="775.50" x2="211.80" y2="775.50" stroke="#333" stroke-width="0.7"/>
<line x1="207.00" y1="780.80" x2="211.80" y2="780.80" stroke="#333" stroke-width="0.7"/>
<line x1="228.00" y1="769.80" x2="228.00" y2="773.20" stroke="#333" stroke-width="0.7"/>
<line x1="225.60" y1="769.80" x2="230.40" y2="769.80" stroke="#333" stroke-width="0.7"/>
<line x1="225.60" y1="773.20" x2="230.40" y2="773.20" stroke="#333" stroke-width="0.7"/>
<line x1="228.00" y1="772.50" x2="228.00" y2="776.80" stroke="#333" stroke-width="0.7"/>
<line x1="225.60" y1="772.50" x2="230.40" y2="772.50" stroke="#333" stroke-width="0.7"/>
<line x1="225.60" y1="776.80" x2="230.40" y2="776.80" stroke="#333" stroke-width="0.7"/>
<circle cx="246.60" cy="771.00" r="1.80" fill="#B8A52C"/>
<circle cx="265.20" cy="772.70" r="1.30" fill="#B8A52C"/>
<polygon points="283.80,776.60 281.71,780.23 285.89,780.23" fill="none" stroke="#B8A52C" stroke-width="0.8"/>
<circle cx="302.40" cy="784.20" r="1.20" fill="#B8A52C"/>
<polygon points="321.00,787.60 318.91,791.23 323.09,791.23" fill="none" stroke="#B8A52C" stroke-width="0.8"/>
<text x="345.30" y="439.90" font-size="14.2" font-weight="bold" font-style="normal" text-anchor="start" fill="#000">H</text>
<defs><linearGradient id="gelh" x1="0" y1="0" x2="0" y2="1"><stop offset="0" stop-color="#E8C8F6"/><stop offset="0.025" stop-color="#CAC4F7"/><stop offset="1" stop-color="#C4C1F5"/></linearGradient><filter id="blurh" x="-50%" y="-50%" width="200%" height="200%"><feGaussianBlur stdDeviation="0.6"/></filter><filter id="blurh2" x="-50%" y="-50%" width="200%" height="200%"><feGaussianBlur stdDeviation="1.2"/></filter></defs>
<rect x="372.80" y="444.00" width="124.90" height="134.80" fill="url(#gelh)" stroke="none" stroke-width="1"/>
<rect x="372.80" y="496.00" width="124.90" height="9.00" fill="#C2BEF5" stroke="none" stroke-width="1"/>
<polygon points="372.8,536.5 497.7,533.5 497.7,538.5 372.8,541.5" fill="#C4C0F5"/>
<line x1="372.80" y1="495.80" x2="497.70" y2="495.00" stroke="#EBB0E8" stroke-width="0.8"/>
<line x1="372.80" y1="505.00" x2="497.70" y2="504.60" stroke="#EBB0E8" stroke-width="0.8"/>
<line x1="372.80" y1="541.20" x2="497.70" y2="538.40" stroke="#E8B0E6" stroke-width="0.7"/>
<line x1="372.80" y1="536.80" x2="497.70" y2="533.60" stroke="#E4B4EA" stroke-width="0.6"/>
<rect x="381.30" y="445" width="8" height="50" fill="#A8A8F0" opacity="0.45" filter="url(#blurh2)"/>
<rect x="381.30" y="506" width="8" height="72" fill="#A8A8F0" opacity="0.35" filter="url(#blurh2)"/>
<ellipse cx="385.30" cy="447.80" rx="3.40" ry="1.30" fill="#8A8AE8" opacity="0.8" filter="url(#blurh)"/>
<ellipse cx="385.30" cy="459.40" rx="3.40" ry="1.40" fill="#7474E2" opacity="0.9" filter="url(#blurh)"/>
<ellipse cx="385.30" cy="473.60" rx="3.60" ry="1.50" fill="#6C6CE0" opacity="0.9" filter="url(#blurh)"/>
<ellipse cx="385.30" cy="477.40" rx="3.20" ry="1.20" fill="#8080E4" opacity="0.7" filter="url(#blurh)"/>
<ellipse cx="385.30" cy="487.40" rx="3.40" ry="1.60" fill="#2A22D0" opacity="1.0" filter="url(#blurh)"/>
<rect x="438.70" y="445" width="8" height="50" fill="#A8A8F0" opacity="0.45" filter="url(#blurh2)"/>
<rect x="438.70" y="506" width="8" height="72" fill="#A8A8F0" opacity="0.35" filter="url(#blurh2)"/>
<ellipse cx="442.70" cy="447.80" rx="3.40" ry="1.30" fill="#8A8AE8" opacity="0.8" filter="url(#blurh)"/>
<ellipse cx="442.70" cy="459.40" rx="3.40" ry="1.40" fill="#7474E2" opacity="0.9" filter="url(#blurh)"/>
<ellipse cx="442.70" cy="473.60" rx="3.60" ry="1.50" fill="#6C6CE0" opacity="0.9" filter="url(#blurh)"/>
<ellipse cx="442.70" cy="477.40" rx="3.20" ry="1.20" fill="#8080E4" opacity="0.7" filter="url(#blurh)"/>
<ellipse cx="442.70" cy="487.40" rx="3.40" ry="1.60" fill="#2A22D0" opacity="1.0" filter="url(#blurh)"/>
<rect x="490.00" y="445" width="8" height="50" fill="#A8A8F0" opacity="0.45" filter="url(#blurh2)"/>
<rect x="490.00" y="506" width="8" height="72" fill="#A8A8F0" opacity="0.35" filter="url(#blurh2)"/>
<ellipse cx="494.00" cy="447.80" rx="3.40" ry="1.30" fill="#8A8AE8" opacity="0.8" filter="url(#blurh)"/>
<ellipse cx="494.00" cy="459.40" rx="3.40" ry="1.40" fill="#7474E2" opacity="0.9" filter="url(#blurh)"/>
<ellipse cx="494.00" cy="473.60" rx="3.60" ry="1.50" fill="#6C6CE0" opacity="0.9" filter="url(#blurh)"/>
<ellipse cx="494.00" cy="477.40" rx="3.20" ry="1.20" fill="#8080E4" opacity="0.7" filter="url(#blurh)"/>
<ellipse cx="494.00" cy="487.40" rx="3.40" ry="1.60" fill="#2A22D0" opacity="1.0" filter="url(#blurh)"/>
<ellipse cx="419.60" cy="459.40" rx="4.60" ry="1.20" fill="#4A44D0" opacity="0.95" filter="url(#blurh)"/>
<ellipse cx="431.00" cy="459.00" rx="4.40" ry="1.00" fill="#7A74DC" opacity="0.85" filter="url(#blurh)"/>
<ellipse cx="419.60" cy="449.50" rx="3.80" ry="1.00" fill="#A6A0EC" opacity="0.4" filter="url(#blurh)"/>
<ellipse cx="419.60" cy="453.50" rx="3.80" ry="1.00" fill="#A6A0EC" opacity="0.35" filter="url(#blurh)"/>
<ellipse cx="472.00" cy="458.30" rx="4.00" ry="1.10" fill="#4A40CC" opacity="0.95" filter="url(#blurh)"/>
<ellipse cx="484.50" cy="458.50" rx="3.80" ry="0.90" fill="#8A84E0" opacity="0.85" filter="url(#blurh)"/>
<ellipse cx="396.00" cy="449.00" rx="3.00" ry="0.80" fill="#B0A8EC" opacity="0.6" filter="url(#blurh)"/>
<rect x="459.0" y="461.6" width="8.6" height="2.8" rx="1.4" fill="#14104A" filter="url(#blurh)"/>
<ellipse cx="463.30" cy="463.00" rx="5.00" ry="2.00" fill="#3A30C0" opacity="0.5" filter="url(#blurh2)"/>
<ellipse cx="407.90" cy="471.50" rx="4.20" ry="4.00" fill="#A8A4EE" opacity="0.7" filter="url(#blurh2)"/>
<rect x="402.40" y="462.20" width="11.00" height="4.40" rx="2.20" fill="#1E1458"/>
<rect x="403.05" y="462.85" width="9.70" height="3.10" rx="1.55" fill="#FBDC6E"/>
<rect x="404.20" y="463.50" width="7.40" height="1.80" rx="0.90" fill="#FFFBE6"/>
<rect x="385.60" y="513.60" width="14.00" height="7.60" rx="3.80" fill="#3A30D8" opacity="0.7" filter="url(#blurh)"/>
<rect x="386.60" y="514.60" width="12.00" height="5.60" rx="2.80" fill="#1E1458"/>
<rect x="387.25" y="515.25" width="10.70" height="4.30" rx="2.15" fill="#FBDC6E"/>
<rect x="388.40" y="515.90" width="8.40" height="3.00" rx="1.50" fill="#FFFBE6"/>
<rect x="398.70" y="513.60" width="13.40" height="7.60" rx="3.80" fill="#3A30D8" opacity="0.7" filter="url(#blurh)"/>
<rect x="399.70" y="514.60" width="11.40" height="5.60" rx="2.80" fill="#1E1458"/>
<rect x="400.35" y="515.25" width="10.10" height="4.30" rx="2.15" fill="#FBDC6E"/>
<rect x="401.50" y="515.90" width="7.80" height="3.00" rx="1.50" fill="#FFFBE6"/>
<rect x="410.60" y="513.60" width="13.70" height="7.60" rx="3.80" fill="#3A30D8" opacity="0.7" filter="url(#blurh)"/>
<rect x="411.60" y="514.60" width="11.70" height="5.60" rx="2.80" fill="#1E1458"/>
<rect x="412.25" y="515.25" width="10.40" height="4.30" rx="2.15" fill="#FBDC6E"/>
<rect x="413.40" y="515.90" width="8.10" height="3.00" rx="1.50" fill="#FFFBE6"/>
<rect x="423.20" y="513.60" width="14.30" height="7.60" rx="3.80" fill="#3A30D8" opacity="0.7" filter="url(#blurh)"/>
<rect x="424.20" y="514.60" width="12.30" height="5.60" rx="2.80" fill="#1E1458"/>
<rect x="424.85" y="515.25" width="11.00" height="4.30" rx="2.15" fill="#FBDC6E"/>
<rect x="426.00" y="515.90" width="8.70" height="3.00" rx="1.50" fill="#FFFBE6"/>
<path d="M377.8,516.5 Q378,514.6 381.6,514.6 Q385.6,514.6 385.6,516.8 Q385.2,522.4 381.6,522.4 Q378,522 377.8,516.5 Z" fill="#120C48"/>
<ellipse cx="381.6" cy="517.8" rx="2.4" ry="1.8" fill="#8A5A22"/>
<ellipse cx="382.00" cy="535.20" rx="3.60" ry="1.80" fill="#1410C0" opacity="1.0" filter="url(#blurh)"/>
<ellipse cx="441.50" cy="518.50" rx="3.40" ry="3.40" fill="#2A20DC" opacity="1.0" filter="url(#blurh)"/>
<ellipse cx="441.50" cy="533.70" rx="3.20" ry="1.30" fill="#3A34D4" opacity="0.9" filter="url(#blurh)"/>
<ellipse cx="493.00" cy="516.30" rx="4.20" ry="3.20" fill="#2218D8" opacity="1.0" filter="url(#blurh)"/>
<ellipse cx="493.00" cy="531.40" rx="3.80" ry="1.20" fill="#4A44D4" opacity="0.9" filter="url(#blurh)"/>
<rect x="380.90" y="551.40" width="15.80" height="9.50" rx="4.75" fill="#3A30D8" opacity="0.7" filter="url(#blurh)"/>
<rect x="381.90" y="552.40" width="13.80" height="7.50" rx="3.75" fill="#1E1458"/>
<rect x="382.55" y="553.05" width="12.50" height="6.20" rx="3.10" fill="#FBDC6E"/>
<rect x="383.70" y="553.70" width="10.20" height="4.90" rx="2.45" fill="#FFFBE6"/>
<ellipse cx="446.7" cy="555.6" rx="6.6" ry="5.2" fill="#3A30D8" opacity="0.7" filter="url(#blurh)"/>
<ellipse cx="446.7" cy="555.6" rx="6.4" ry="5.0" fill="#1A1250"/>
<ellipse cx="446.7" cy="555.6" rx="5.6" ry="4.2" fill="#FBDC6E"/>
<ellipse cx="446.4" cy="555.2" rx="4.2" ry="3.0" fill="#FFFBE6"/>
<ellipse cx="388.50" cy="565.70" rx="4.60" ry="1.20" fill="#4A40D0" opacity="0.9" filter="url(#blurh)"/>
<ellipse cx="388.50" cy="574.00" rx="4.40" ry="1.00" fill="#6A60D8" opacity="0.85" filter="url(#blurh)"/>
<ellipse cx="402.00" cy="575.50" rx="3.50" ry="0.80" fill="#7A70DC" opacity="0.8" filter="url(#blurh)"/>
<ellipse cx="416.00" cy="575.00" rx="4.00" ry="0.90" fill="#6A60D8" opacity="0.8" filter="url(#blurh)"/>
<ellipse cx="431.00" cy="574.50" rx="4.00" ry="0.90" fill="#7A70DC" opacity="0.8" filter="url(#blurh)"/>
<ellipse cx="446.50" cy="563.50" rx="3.00" ry="1.00" fill="#7A70DC" opacity="0.8" filter="url(#blurh)"/>
<ellipse cx="378.00" cy="555.80" rx="2.20" ry="1.00" fill="#6A60D8" opacity="0.8" filter="url(#blurh)"/>
<ellipse cx="456.50" cy="555.80" rx="2.20" ry="0.70" fill="#8A80E0" opacity="0.7" filter="url(#blurh)"/>
<ellipse cx="466.50" cy="555.80" rx="2.20" ry="0.70" fill="#8A80E0" opacity="0.7" filter="url(#blurh)"/>
<ellipse cx="476.50" cy="555.80" rx="2.20" ry="0.70" fill="#8A80E0" opacity="0.6" filter="url(#blurh)"/>
<ellipse cx="489.00" cy="557.50" rx="3.40" ry="2.00" fill="#F0B0E8" opacity="0.8" filter="url(#blurh)"/>
<ellipse cx="489.50" cy="554.00" rx="2.50" ry="1.00" fill="#7A70DC" opacity="0.7" filter="url(#blurh)"/>
<ellipse cx="489.50" cy="568.50" rx="2.50" ry="1.20" fill="#7A78E0" opacity="0.8" filter="url(#blurh)"/>
<ellipse cx="489.50" cy="577.00" rx="2.50" ry="1.00" fill="#7070DE" opacity="0.8" filter="url(#blurh)"/>
<ellipse cx="375.00" cy="561.50" rx="2.20" ry="1.50" fill="#F0B0E8" opacity="0.7" filter="url(#blurh)"/>
<line x1="372.8" y1="501.6" x2="497.7" y2="501.2" stroke="#fff" stroke-width="1.2" stroke-dasharray="3.2 1.8"/>
<line x1="372.8" y1="539.8" x2="497.7" y2="536.2" stroke="#fff" stroke-width="1.2" stroke-dasharray="3.2 1.8"/>
<text x="411.40" y="430.00" font-size="8.8" font-weight="bold" font-style="normal" text-anchor="middle" fill="#000">input</text>
<text x="467.80" y="430.40" font-size="8.85" font-weight="bold" font-style="normal" text-anchor="middle" fill="#000">eluate</text>
<line x1="395.40" y1="432.50" x2="431.90" y2="432.50" stroke="#333" stroke-width="0.9"/>
<line x1="449.80" y1="432.50" x2="486.30" y2="432.50" stroke="#333" stroke-width="0.9"/>
<text x="385.30" y="441.90" font-size="8.6" font-weight="bold" font-style="normal" text-anchor="middle" fill="#000">M</text>
<text x="395.70" y="441.90" font-size="8.6" font-weight="bold" font-style="normal" text-anchor="middle" fill="#000">1</text>
<text x="407.50" y="441.90" font-size="8.6" font-weight="bold" font-style="normal" text-anchor="middle" fill="#000">2</text>
<text x="419.20" y="441.90" font-size="8.6" font-weight="bold" font-style="normal" text-anchor="middle" fill="#000">3</text>
<text x="431.20" y="441.90" font-size="8.6" font-weight="bold" font-style="normal" text-anchor="middle" fill="#000">4</text>
<text x="442.70" y="441.90" font-size="8.6" font-weight="bold" font-style="normal" text-anchor="middle" fill="#000">M</text>
<text x="451.70" y="441.90" font-size="8.6" font-weight="bold" font-style="normal" text-anchor="middle" fill="#000">1</text>
<text x="463.30" y="441.90" font-size="8.6" font-weight="bold" font-style="normal" text-anchor="middle" fill="#000">2</text>
<text x="474.20" y="441.90" font-size="8.6" font-weight="bold" font-style="normal" text-anchor="middle" fill="#000">3</text>
<text x="484.40" y="441.90" font-size="8.6" font-weight="bold" font-style="normal" text-anchor="middle" fill="#000">4</text>
<text x="496.00" y="441.90" font-size="8.6" font-weight="bold" font-style="normal" text-anchor="middle" fill="#000">M</text>
<text x="504.50" y="451.70" font-size="8.0" font-weight="bold" font-style="normal" text-anchor="middle" fill="#000">250</text>
<text x="504.50" y="463.40" font-size="8.0" font-weight="bold" font-style="normal" text-anchor="middle" fill="#000">150</text>
<text x="504.50" y="479.20" font-size="8.0" font-weight="bold" font-style="normal" text-anchor="middle" fill="#000">100</text>
<text x="506.90" y="491.30" font-size="8.0" font-weight="bold" font-style="normal" text-anchor="middle" fill="#000">75</text>
<text x="506.90" y="517.10" font-size="8.0" font-weight="bold" font-style="normal" text-anchor="middle" fill="#000">50</text>
<text x="506.90" y="535.10" font-size="8.0" font-weight="bold" font-style="normal" text-anchor="middle" fill="#000">37</text>
<text x="506.90" y="558.50" font-size="8.0" font-weight="bold" font-style="normal" text-anchor="middle" fill="#000">25</text>
<text x="505.10" y="566.30" font-size="8.0" font-weight="bold" font-style="normal" text-anchor="middle" fill="#000">kD</text>
<text x="353.80" y="468.30" font-size="9.0" font-weight="bold" font-style="normal" text-anchor="middle" fill="#000">anti-</text>
<text x="353.80" y="477.20" font-size="9.0" font-weight="bold" font-style="normal" text-anchor="middle" fill="#000">GFP</text>
<text x="355.80" y="517.00" font-size="9.0" font-weight="bold" font-style="normal" text-anchor="middle" fill="#000">anti-</text>
<text x="355.80" y="525.60" font-size="8.7" font-weight="bold" font-style="normal" text-anchor="middle" fill="#000">tubulin</text>
<text x="355.80" y="558.20" font-size="9.0" font-weight="bold" font-style="normal" text-anchor="middle" fill="#000">anti-</text>
<text x="355.80" y="566.30" font-size="9.0" font-weight="bold" font-style="normal" text-anchor="middle" fill="#000">GFP</text>
</svg></body></html>
